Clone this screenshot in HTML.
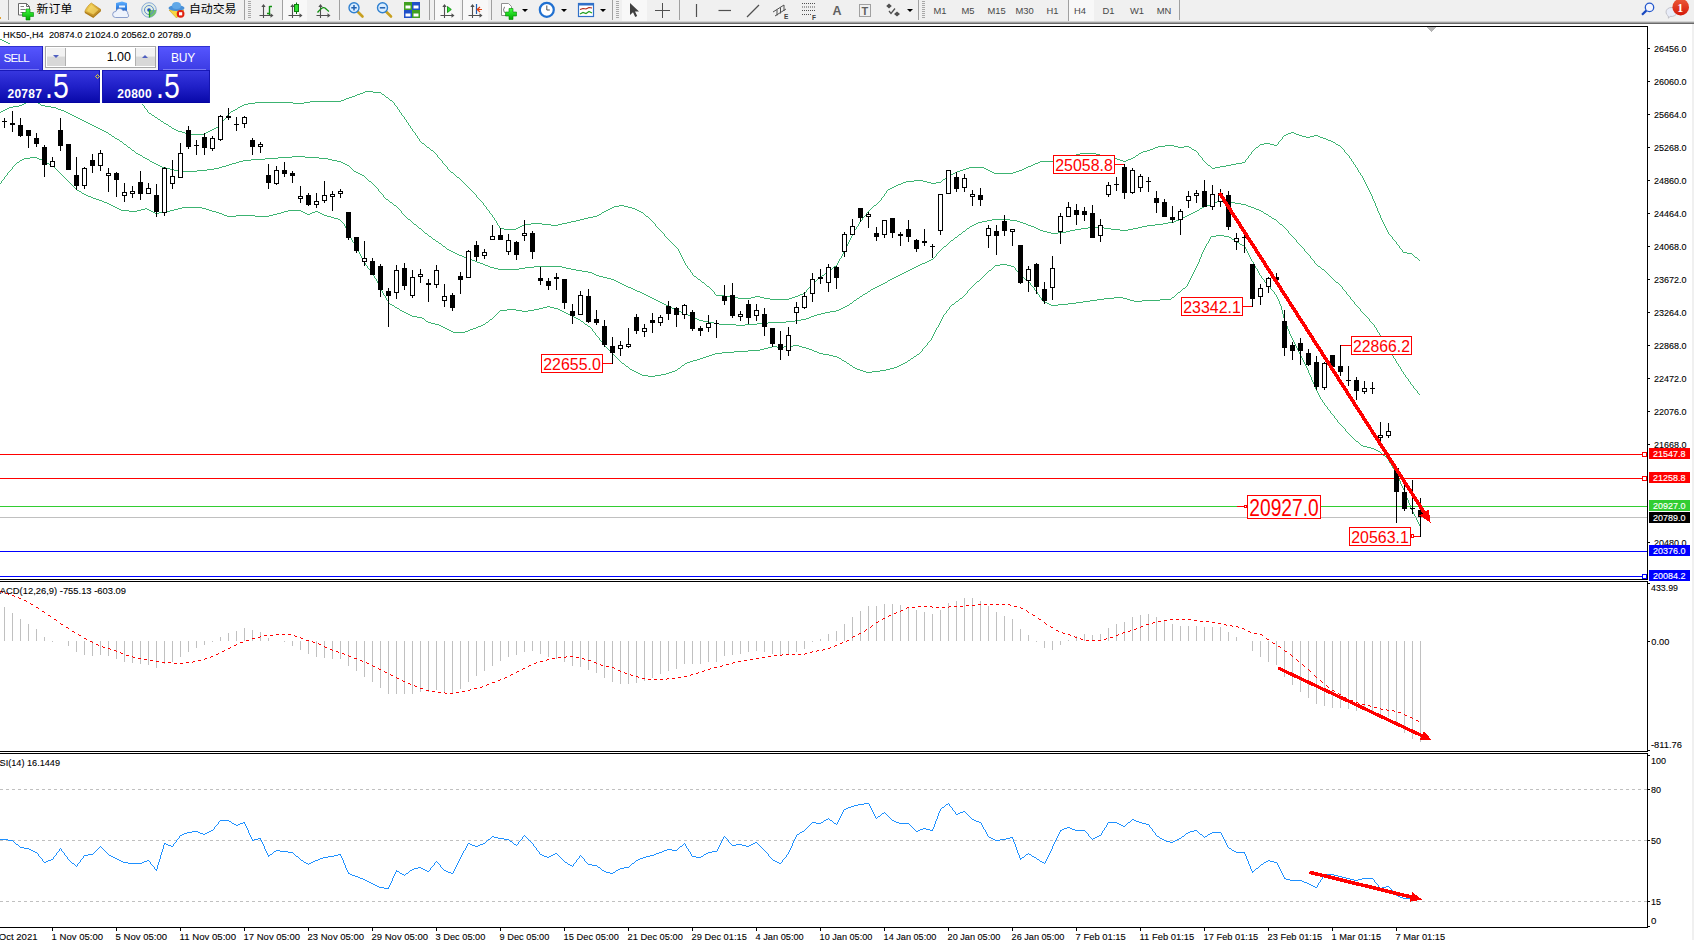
<!DOCTYPE html>
<html><head><meta charset="utf-8"><title>HK50-,H4</title>
<style>
html,body{margin:0;padding:0;background:#fff;}
body{width:1694px;height:940px;overflow:hidden;position:relative;font-family:"Liberation Sans","Noto Sans CJK SC",sans-serif;}
#tb{position:absolute;left:0;top:0;width:1694px;height:21px;background:#f0f0f0;}
#tbl1{position:absolute;left:0;top:21px;width:1694px;height:1px;background:#d4d4d4}
#tbl2{position:absolute;left:0;top:22px;width:1694px;height:1px;background:#a0a0a0}
#tbl3{position:absolute;left:0;top:23px;width:1694px;height:1px;background:#696969}
.sep{position:absolute;top:0;width:1px;height:20px;background:#a0a0a0}
.grip{position:absolute;top:1px;width:3px;height:18px;background:repeating-linear-gradient(#a8a8a8 0 1px,#f0f0f0 1px 2px)}
.sel{position:absolute;top:0;height:21px;background:#f8f8f8;}
.tf{position:absolute;top:4.5px;font-size:9.4px;color:#484848;width:28px;text-align:center;line-height:11px}
.cj{position:absolute;top:0.3px;font-size:11.9px;line-height:16px;color:#000;font-family:"Noto Sans CJK SC","Liberation Sans",sans-serif;white-space:nowrap}
.dd{position:absolute;top:9px;width:0;height:0;border-left:3px solid transparent;border-right:3px solid transparent;border-top:3px solid #000}
#tbsvg{position:absolute;left:0;top:0}
/* one click trading */
#oct{position:absolute;left:0;top:46px;width:210px;height:57px;background:#fff}
.b{position:absolute;color:#fff}
</style></head><body>
<svg width="1694" height="940" viewBox="0 0 1694 940" style="position:absolute;left:0;top:0" shape-rendering="crispEdges" font-family="'Liberation Sans',sans-serif">
<style>text.s{stroke:#000;stroke-width:.1px}text.w{stroke:#fff;stroke-width:.15px}text.r{stroke:#f00;stroke-width:0}</style>
<path fill="#3cb371" d="M0 39h2v1h-2zM2 40h2v1h-2zM4 41h2v1h-2zM6 42h2v1h-2zM8 43h2v1h-2z"/>
<path fill="#3cb371" d="M365 91h8v1h-8zM363 92h2v1h-2zM373 92h8v1h-8zM360 93h3v1h-3zM357 94h3v1h-3zM382 94h2v1h-2zM355 95h2v1h-2zM352 96h3v1h-3zM349 97h3v1h-3zM386 97h2v1h-2zM346 98h3v1h-3zM344 99h2v1h-2zM341 100h3v1h-3zM390 100h2v1h-2zM310 101h31v1h-31zM255 102h38v1h-38zM304 102h6v1h-6zM248 103h7v1h-7zM293 103h11v1h-11zM244 104h4v1h-4zM242 105h2v1h-2zM240 106h2v1h-2zM238 107h2v1h-2zM235 109h2v1h-2zM233 110h2v1h-2zM231 111h2v1h-2zM149 113h2v1h-2zM152 115h2v1h-2zM155 117h2v1h-2zM158 119h2v1h-2zM161 121h2v1h-2zM164 123h2v1h-2zM166 124h2v1h-2zM169 126h2v1h-2zM216 127h2v1h-2zM172 128h2v1h-2zM214 128h2v1h-2zM174 129h2v1h-2zM212 129h2v1h-2zM176 130h2v1h-2zM210 130h2v1h-2zM178 131h4v1h-4zM208 131h2v1h-2zM182 132h3v1h-3zM206 132h2v1h-2zM1291 132h3v1h-3zM185 133h4v1h-4zM204 133h2v1h-2zM1288 133h3v1h-3zM1294 133h2v1h-2zM189 134h15v1h-15zM1286 134h2v1h-2zM1296 134h3v1h-3zM1284 135h2v1h-2zM1299 135h3v1h-3zM1314 135h4v1h-4zM1302 136h4v1h-4zM1310 136h4v1h-4zM1318 136h2v1h-2zM1306 137h4v1h-4zM1320 137h3v1h-3zM1323 138h3v1h-3zM1326 139h2v1h-2zM1328 140h3v1h-3zM1331 141h2v1h-2zM1333 142h2v1h-2zM422 143h2v1h-2zM1264 143h6v1h-6zM1260 144h4v1h-4zM1270 144h4v1h-4zM1336 144h2v1h-2zM1165 145h9v1h-9zM1274 145h3v1h-3zM1338 145h2v1h-2zM1158 146h7v1h-7zM1174 146h4v1h-4zM1184 146h5v1h-5zM427 147h2v1h-2zM1155 147h3v1h-3zM1178 147h6v1h-6zM1189 147h2v1h-2zM1256 147h2v1h-2zM1153 148h2v1h-2zM1150 149h3v1h-3zM1192 149h2v1h-2zM431 150h2v1h-2zM1147 150h3v1h-3zM1194 150h2v1h-2zM1143 151h4v1h-4zM1141 152h2v1h-2zM1080 153h16v1h-16zM1139 153h2v1h-2zM1076 154h4v1h-4zM1096 154h4v1h-4zM1072 155h4v1h-4zM1100 155h4v1h-4zM1136 155h2v1h-2zM1069 156h3v1h-3zM1104 156h4v1h-4zM1065 157h4v1h-4zM1108 157h5v1h-5zM1133 157h2v1h-2zM1062 158h3v1h-3zM1113 158h4v1h-4zM1131 158h2v1h-2zM1059 159h3v1h-3zM1117 159h3v1h-3zM1128 159h3v1h-3zM1055 160h4v1h-4zM1120 160h3v1h-3zM1126 160h2v1h-2zM1040 161h15v1h-15zM1123 161h3v1h-3zM1038 162h2v1h-2zM1242 162h3v1h-3zM1035 163h3v1h-3zM1236 163h6v1h-6zM1033 164h2v1h-2zM1231 164h5v1h-5zM1031 165h2v1h-2zM1208 165h2v1h-2zM1226 165h5v1h-5zM1028 166h3v1h-3zM1220 166h6v1h-6zM969 167h15v1h-15zM1026 167h2v1h-2zM1215 167h5v1h-5zM966 168h3v1h-3zM984 168h2v1h-2zM1024 168h2v1h-2zM1212 168h3v1h-3zM963 169h3v1h-3zM986 169h2v1h-2zM1022 169h2v1h-2zM960 170h3v1h-3zM988 170h2v1h-2zM1019 170h3v1h-3zM957 171h3v1h-3zM990 171h2v1h-2zM1016 171h3v1h-3zM451 172h2v1h-2zM955 172h2v1h-2zM992 172h2v1h-2zM1013 172h3v1h-3zM953 173h2v1h-2zM994 173h19v1h-19zM951 174h2v1h-2zM949 175h2v1h-2zM947 176h2v1h-2zM457 177h2v1h-2zM943 179h2v1h-2zM914 180h9v1h-9zM906 181h8v1h-8zM923 181h4v1h-4zM903 182h3v1h-3zM927 182h4v1h-4zM936 182h5v1h-5zM901 183h2v1h-2zM931 183h5v1h-5zM898 184h3v1h-3zM896 185h2v1h-2zM894 186h2v1h-2zM892 187h2v1h-2zM890 188h2v1h-2zM888 189h2v1h-2zM619 205h5v1h-5zM874 205h2v1h-2zM614 206h5v1h-5zM624 206h4v1h-4zM612 207h2v1h-2zM628 207h4v1h-4zM610 208h2v1h-2zM632 208h3v1h-3zM608 209h2v1h-2zM635 209h2v1h-2zM606 210h2v1h-2zM637 210h2v1h-2zM604 211h2v1h-2zM639 211h2v1h-2zM602 212h2v1h-2zM641 212h2v1h-2zM599 214h2v1h-2zM597 215h2v1h-2zM593 216h4v1h-4zM646 216h2v1h-2zM588 217h5v1h-5zM584 218h4v1h-4zM580 219h4v1h-4zM576 220h4v1h-4zM571 221h5v1h-5zM567 222h4v1h-4zM531 223h11v1h-11zM562 223h5v1h-5zM524 224h7v1h-7zM542 224h9v1h-9zM558 224h4v1h-4zM522 225h2v1h-2zM551 225h7v1h-7zM520 226h2v1h-2zM518 227h2v1h-2zM500 228h4v1h-4zM516 228h2v1h-2zM504 229h12v1h-12zM1403 252h4v1h-4zM1407 253h5v1h-5zM1415 257h2v1h-2zM834 266h2v1h-2zM830 269h2v1h-2zM826 272h2v1h-2zM822 275h2v1h-2zM694 276h2v1h-2zM818 278h2v1h-2zM698 279h2v1h-2zM814 281h2v1h-2zM702 282h2v1h-2zM707 286h2v1h-2zM803 293h2v1h-2zM800 294h3v1h-3zM716 295h8v1h-8zM798 295h2v1h-2zM724 296h10v1h-10zM755 296h5v1h-5zM795 296h3v1h-3zM734 297h4v1h-4zM751 297h4v1h-4zM760 297h4v1h-4zM792 297h3v1h-3zM738 298h13v1h-13zM764 298h6v1h-6zM789 298h3v1h-3zM770 299h19v1h-19zM142 104h1v1h-1zM143 105h1v1h-1zM144 106h1v2h-1zM145 108h1v1h-1zM146 109h1v1h-1zM147 110h1v2h-1zM148 112h1v1h-1zM151 114h1v1h-1zM154 116h1v1h-1zM157 118h1v1h-1zM160 120h1v1h-1zM163 122h1v1h-1zM168 125h1v1h-1zM171 127h1v1h-1zM218 126h1v1h-1zM219 125h1v1h-1zM220 123h1v2h-1zM221 122h1v1h-1zM222 121h1v1h-1zM223 120h1v1h-1zM224 119h1v1h-1zM225 118h1v1h-1zM226 117h1v1h-1zM227 115h1v2h-1zM228 114h1v1h-1zM229 113h1v1h-1zM230 112h1v1h-1zM237 108h1v1h-1zM381 93h1v1h-1zM384 95h1v1h-1zM385 96h1v1h-1zM388 98h1v1h-1zM389 99h1v1h-1zM392 101h1v1h-1zM393 102h1v1h-1zM394 103h1v2h-1zM395 105h1v1h-1zM396 106h1v1h-1zM397 107h1v2h-1zM398 109h1v1h-1zM399 110h1v2h-1zM400 112h1v1h-1zM401 113h1v2h-1zM402 115h1v1h-1zM403 116h1v1h-1zM404 117h1v2h-1zM405 119h1v1h-1zM406 120h1v2h-1zM407 122h1v1h-1zM408 123h1v2h-1zM409 125h1v1h-1zM410 126h1v2h-1zM411 128h1v1h-1zM412 129h1v2h-1zM413 131h1v1h-1zM414 132h1v1h-1zM415 133h1v2h-1zM416 135h1v1h-1zM417 136h1v2h-1zM418 138h1v1h-1zM419 139h1v2h-1zM420 141h1v1h-1zM421 142h1v1h-1zM424 144h1v1h-1zM425 145h1v1h-1zM426 146h1v1h-1zM429 148h1v1h-1zM430 149h1v1h-1zM433 151h1v1h-1zM434 152h1v1h-1zM435 153h1v1h-1zM436 154h1v1h-1zM437 155h1v2h-1zM438 157h1v1h-1zM439 158h1v1h-1zM440 159h1v1h-1zM441 160h1v1h-1zM442 161h1v2h-1zM443 163h1v1h-1zM444 164h1v1h-1zM445 165h1v1h-1zM446 166h1v1h-1zM447 167h1v2h-1zM448 169h1v1h-1zM449 170h1v1h-1zM450 171h1v1h-1zM453 173h1v1h-1zM454 174h1v1h-1zM455 175h1v1h-1zM456 176h1v1h-1zM459 178h1v1h-1zM460 179h1v1h-1zM461 180h1v1h-1zM462 181h1v1h-1zM463 182h1v1h-1zM464 183h1v1h-1zM465 184h1v1h-1zM466 185h1v1h-1zM467 186h1v1h-1zM468 187h1v1h-1zM469 188h1v1h-1zM470 189h1v1h-1zM471 190h1v1h-1zM472 191h1v1h-1zM473 192h1v1h-1zM474 193h1v1h-1zM475 194h1v1h-1zM476 195h1v2h-1zM477 197h1v1h-1zM478 198h1v1h-1zM479 199h1v1h-1zM480 200h1v1h-1zM481 201h1v1h-1zM482 202h1v1h-1zM483 203h1v2h-1zM484 205h1v1h-1zM485 206h1v1h-1zM486 207h1v2h-1zM487 209h1v1h-1zM488 210h1v1h-1zM489 211h1v2h-1zM490 213h1v1h-1zM491 214h1v1h-1zM492 215h1v2h-1zM493 217h1v1h-1zM494 218h1v2h-1zM495 220h1v1h-1zM496 221h1v2h-1zM497 223h1v2h-1zM498 225h1v1h-1zM499 226h1v2h-1zM601 213h1v1h-1zM643 213h1v1h-1zM644 214h1v1h-1zM645 215h1v1h-1zM648 217h1v1h-1zM649 218h1v1h-1zM650 219h1v1h-1zM651 220h1v1h-1zM652 221h1v1h-1zM653 222h1v1h-1zM654 223h1v1h-1zM655 224h1v2h-1zM656 226h1v1h-1zM657 227h1v1h-1zM658 228h1v1h-1zM659 229h1v1h-1zM660 230h1v1h-1zM661 231h1v1h-1zM662 232h1v1h-1zM663 233h1v1h-1zM664 234h1v2h-1zM665 236h1v1h-1zM666 237h1v1h-1zM667 238h1v1h-1zM668 239h1v1h-1zM669 240h1v1h-1zM670 241h1v1h-1zM671 242h1v1h-1zM672 243h1v1h-1zM673 244h1v1h-1zM674 245h1v1h-1zM675 246h1v1h-1zM676 247h1v1h-1zM677 248h1v1h-1zM678 249h1v2h-1zM679 251h1v2h-1zM680 253h1v2h-1zM681 255h1v2h-1zM682 257h1v2h-1zM683 259h1v2h-1zM684 261h1v2h-1zM685 263h1v2h-1zM686 265h1v1h-1zM687 266h1v2h-1zM688 268h1v1h-1zM689 269h1v1h-1zM690 270h1v2h-1zM691 272h1v1h-1zM692 273h1v2h-1zM693 275h1v1h-1zM696 277h1v1h-1zM697 278h1v1h-1zM700 280h1v1h-1zM701 281h1v1h-1zM704 283h1v1h-1zM705 284h1v1h-1zM706 285h1v1h-1zM709 287h1v1h-1zM710 288h1v1h-1zM711 289h1v1h-1zM712 290h1v1h-1zM713 291h1v1h-1zM714 292h1v2h-1zM715 294h1v1h-1zM805 292h1v1h-1zM806 290h1v2h-1zM807 289h1v1h-1zM808 288h1v1h-1zM809 287h1v1h-1zM810 285h1v2h-1zM811 284h1v1h-1zM812 283h1v1h-1zM813 282h1v1h-1zM816 280h1v1h-1zM817 279h1v1h-1zM820 277h1v1h-1zM821 276h1v1h-1zM824 274h1v1h-1zM825 273h1v1h-1zM828 271h1v1h-1zM829 270h1v1h-1zM832 268h1v1h-1zM833 267h1v1h-1zM836 265h1v1h-1zM837 263h1v2h-1zM838 261h1v2h-1zM839 259h1v2h-1zM840 258h1v1h-1zM841 256h1v2h-1zM842 254h1v2h-1zM843 252h1v2h-1zM844 250h1v2h-1zM845 248h1v2h-1zM846 246h1v2h-1zM847 244h1v2h-1zM848 242h1v2h-1zM849 240h1v2h-1zM850 238h1v2h-1zM851 236h1v2h-1zM852 234h1v2h-1zM853 232h1v2h-1zM854 230h1v2h-1zM855 229h1v1h-1zM856 227h1v2h-1zM857 226h1v1h-1zM858 224h1v2h-1zM859 222h1v2h-1zM860 221h1v1h-1zM861 220h1v1h-1zM862 218h1v2h-1zM863 217h1v1h-1zM864 216h1v1h-1zM865 215h1v1h-1zM866 213h1v2h-1zM867 212h1v1h-1zM868 211h1v1h-1zM869 210h1v1h-1zM870 209h1v1h-1zM871 208h1v1h-1zM872 207h1v1h-1zM873 206h1v1h-1zM876 204h1v1h-1zM877 203h1v1h-1zM878 202h1v1h-1zM879 201h1v1h-1zM880 200h1v1h-1zM881 198h1v2h-1zM882 197h1v1h-1zM883 196h1v1h-1zM884 194h1v2h-1zM885 193h1v1h-1zM886 191h1v2h-1zM887 190h1v1h-1zM941 181h1v1h-1zM942 180h1v1h-1zM945 178h1v1h-1zM946 177h1v1h-1zM1135 156h1v1h-1zM1138 154h1v1h-1zM1191 148h1v1h-1zM1196 151h1v1h-1zM1197 152h1v1h-1zM1198 153h1v2h-1zM1199 155h1v1h-1zM1200 156h1v1h-1zM1201 157h1v1h-1zM1202 158h1v2h-1zM1203 160h1v1h-1zM1204 161h1v1h-1zM1205 162h1v1h-1zM1206 163h1v1h-1zM1207 164h1v1h-1zM1210 166h1v1h-1zM1211 167h1v1h-1zM1245 160h1v2h-1zM1246 159h1v1h-1zM1247 158h1v1h-1zM1248 156h1v2h-1zM1249 155h1v1h-1zM1250 154h1v1h-1zM1251 152h1v2h-1zM1252 151h1v1h-1zM1253 150h1v1h-1zM1254 149h1v1h-1zM1255 148h1v1h-1zM1258 146h1v1h-1zM1259 145h1v1h-1zM1277 144h1v1h-1zM1278 142h1v2h-1zM1279 141h1v1h-1zM1280 140h1v1h-1zM1281 139h1v1h-1zM1282 137h1v2h-1zM1283 136h1v1h-1zM1335 143h1v1h-1zM1340 146h1v1h-1zM1341 147h1v1h-1zM1342 148h1v1h-1zM1343 149h1v1h-1zM1344 150h1v2h-1zM1345 152h1v1h-1zM1346 153h1v1h-1zM1347 154h1v1h-1zM1348 155h1v1h-1zM1349 156h1v2h-1zM1350 158h1v1h-1zM1351 159h1v2h-1zM1352 161h1v1h-1zM1353 162h1v2h-1zM1354 164h1v1h-1zM1355 165h1v2h-1zM1356 167h1v1h-1zM1357 168h1v2h-1zM1358 170h1v2h-1zM1359 172h1v1h-1zM1360 173h1v2h-1zM1361 175h1v1h-1zM1362 176h1v2h-1zM1363 178h1v2h-1zM1364 180h1v2h-1zM1365 182h1v2h-1zM1366 184h1v2h-1zM1367 186h1v2h-1zM1368 188h1v2h-1zM1369 190h1v2h-1zM1370 192h1v2h-1zM1371 194h1v2h-1zM1372 196h1v3h-1zM1373 199h1v2h-1zM1374 201h1v2h-1zM1375 203h1v3h-1zM1376 206h1v2h-1zM1377 208h1v3h-1zM1378 211h1v2h-1zM1379 213h1v2h-1zM1380 215h1v3h-1zM1381 218h1v2h-1zM1382 220h1v2h-1zM1383 222h1v2h-1zM1384 224h1v2h-1zM1385 226h1v2h-1zM1386 228h1v2h-1zM1387 230h1v2h-1zM1388 232h1v2h-1zM1389 234h1v1h-1zM1390 235h1v1h-1zM1391 236h1v1h-1zM1392 237h1v2h-1zM1393 239h1v1h-1zM1394 240h1v1h-1zM1395 241h1v1h-1zM1396 242h1v2h-1zM1397 244h1v1h-1zM1398 245h1v1h-1zM1399 246h1v2h-1zM1400 248h1v1h-1zM1401 249h1v1h-1zM1402 250h1v2h-1zM1412 254h1v1h-1zM1413 255h1v1h-1zM1414 256h1v1h-1zM1417 258h1v1h-1zM1418 259h1v1h-1zM1419 260h1v1h-1z"/>
<path fill="#3cb371" d="M30 101h4v1h-4zM26 102h4v1h-4zM34 102h4v1h-4zM24 103h2v1h-2zM38 103h2v1h-2zM22 104h2v1h-2zM19 105h3v1h-3zM41 105h4v1h-4zM13 106h6v1h-6zM45 106h6v1h-6zM9 107h4v1h-4zM51 107h5v1h-5zM7 108h2v1h-2zM56 108h2v1h-2zM5 109h2v1h-2zM58 109h3v1h-3zM3 110h2v1h-2zM61 110h3v1h-3zM1 111h2v1h-2zM64 111h2v1h-2zM66 112h2v1h-2zM68 113h2v1h-2zM70 114h2v1h-2zM72 115h2v1h-2zM74 116h2v1h-2zM76 117h2v1h-2zM78 118h2v1h-2zM80 119h2v1h-2zM82 120h2v1h-2zM84 121h2v1h-2zM86 122h2v1h-2zM88 123h2v1h-2zM90 124h2v1h-2zM92 125h2v1h-2zM94 126h2v1h-2zM96 127h2v1h-2zM98 128h2v1h-2zM100 129h2v1h-2zM102 130h2v1h-2zM104 131h2v1h-2zM106 132h2v1h-2zM109 134h2v1h-2zM112 136h2v1h-2zM115 138h2v1h-2zM117 139h2v1h-2zM120 141h2v1h-2zM124 144h2v1h-2zM128 147h2v1h-2zM132 150h2v1h-2zM136 153h2v1h-2zM138 154h2v1h-2zM140 155h2v1h-2zM292 156h13v1h-13zM143 157h2v1h-2zM278 157h14v1h-14zM305 157h14v1h-14zM145 158h2v1h-2zM265 158h13v1h-13zM319 158h9v1h-9zM147 159h2v1h-2zM251 159h14v1h-14zM328 159h4v1h-4zM243 160h8v1h-8zM332 160h5v1h-5zM150 161h2v1h-2zM239 161h4v1h-4zM337 161h4v1h-4zM152 162h2v1h-2zM236 162h3v1h-3zM341 162h2v1h-2zM154 163h2v1h-2zM232 163h4v1h-4zM343 163h2v1h-2zM156 164h2v1h-2zM229 164h3v1h-3zM345 164h2v1h-2zM158 165h2v1h-2zM226 165h3v1h-3zM347 165h2v1h-2zM160 166h2v1h-2zM222 166h4v1h-4zM162 167h4v1h-4zM219 167h3v1h-3zM166 168h4v1h-4zM214 168h5v1h-5zM170 169h4v1h-4zM207 169h7v1h-7zM174 170h9v1h-9zM197 170h10v1h-10zM183 171h14v1h-14zM354 171h2v1h-2zM356 172h2v1h-2zM358 173h2v1h-2zM360 174h2v1h-2zM362 175h2v1h-2zM369 181h2v1h-2zM386 199h2v1h-2zM1219 200h4v1h-4zM1217 201h2v1h-2zM1223 201h6v1h-6zM390 202h2v1h-2zM1215 202h2v1h-2zM1229 202h6v1h-6zM1213 203h2v1h-2zM1235 203h6v1h-6zM1210 204h3v1h-3zM1241 204h5v1h-5zM394 205h2v1h-2zM1206 205h4v1h-4zM1246 205h2v1h-2zM1204 206h2v1h-2zM1248 206h3v1h-3zM1202 207h2v1h-2zM1251 207h3v1h-3zM1200 208h2v1h-2zM1254 208h2v1h-2zM1256 209h3v1h-3zM1197 210h2v1h-2zM1259 210h2v1h-2zM1195 211h2v1h-2zM1261 211h2v1h-2zM1193 212h2v1h-2zM1191 213h2v1h-2zM1264 213h2v1h-2zM1189 214h2v1h-2zM1266 214h2v1h-2zM1187 215h2v1h-2zM1185 216h2v1h-2zM1269 216h2v1h-2zM1183 217h2v1h-2zM1181 218h2v1h-2zM1272 218h2v1h-2zM408 219h2v1h-2zM992 219h18v1h-18zM1179 219h2v1h-2zM1274 219h2v1h-2zM987 220h5v1h-5zM1010 220h7v1h-7zM1176 220h3v1h-3zM982 221h5v1h-5zM1017 221h3v1h-3zM1174 221h2v1h-2zM978 222h4v1h-4zM1020 222h3v1h-3zM1168 222h6v1h-6zM976 223h2v1h-2zM1023 223h3v1h-3zM1163 223h5v1h-5zM414 224h2v1h-2zM974 224h2v1h-2zM1026 224h2v1h-2zM1155 224h8v1h-8zM1280 224h2v1h-2zM972 225h2v1h-2zM1028 225h3v1h-3zM1147 225h8v1h-8zM970 226h2v1h-2zM1031 226h3v1h-3zM1142 226h5v1h-5zM1034 227h2v1h-2zM1088 227h16v1h-16zM1138 227h4v1h-4zM419 228h2v1h-2zM967 228h2v1h-2zM1036 228h2v1h-2zM1081 228h7v1h-7zM1104 228h7v1h-7zM1133 228h5v1h-5zM1038 229h2v1h-2zM1075 229h6v1h-6zM1111 229h9v1h-9zM1128 229h5v1h-5zM1040 230h3v1h-3zM1070 230h5v1h-5zM1120 230h8v1h-8zM963 231h2v1h-2zM1043 231h4v1h-4zM1066 231h4v1h-4zM1047 232h4v1h-4zM1058 232h8v1h-8zM425 233h2v1h-2zM1051 233h7v1h-7zM959 234h2v1h-2zM429 236h2v1h-2zM955 237h2v1h-2zM433 239h2v1h-2zM951 240h2v1h-2zM436 241h2v1h-2zM439 243h2v1h-2zM443 246h2v1h-2zM944 246h2v1h-2zM447 249h2v1h-2zM449 250h2v1h-2zM451 251h2v1h-2zM453 252h2v1h-2zM455 253h2v1h-2zM457 254h2v1h-2zM459 255h3v1h-3zM462 256h2v1h-2zM464 257h3v1h-3zM467 258h2v1h-2zM469 259h3v1h-3zM931 259h2v1h-2zM472 260h3v1h-3zM929 260h2v1h-2zM475 261h2v1h-2zM927 261h2v1h-2zM477 262h3v1h-3zM925 262h2v1h-2zM480 263h3v1h-3zM922 263h3v1h-3zM483 264h2v1h-2zM920 264h2v1h-2zM485 265h3v1h-3zM918 265h2v1h-2zM488 266h2v1h-2zM534 266h28v1h-28zM916 266h2v1h-2zM1318 266h2v1h-2zM490 267h4v1h-4zM525 267h9v1h-9zM562 267h4v1h-4zM914 267h2v1h-2zM494 268h4v1h-4zM519 268h6v1h-6zM566 268h5v1h-5zM912 268h2v1h-2zM498 269h21v1h-21zM571 269h5v1h-5zM910 269h2v1h-2zM1322 269h2v1h-2zM576 270h6v1h-6zM908 270h2v1h-2zM582 271h6v1h-6zM906 271h2v1h-2zM588 272h4v1h-4zM904 272h2v1h-2zM592 273h2v1h-2zM902 273h2v1h-2zM594 274h2v1h-2zM900 274h2v1h-2zM596 275h3v1h-3zM898 275h2v1h-2zM599 276h4v1h-4zM896 276h2v1h-2zM603 277h4v1h-4zM894 277h2v1h-2zM607 278h4v1h-4zM892 278h2v1h-2zM611 279h3v1h-3zM890 279h2v1h-2zM614 280h2v1h-2zM888 280h2v1h-2zM616 281h2v1h-2zM618 282h2v1h-2zM885 282h2v1h-2zM1336 282h2v1h-2zM620 283h2v1h-2zM883 283h2v1h-2zM622 284h2v1h-2zM881 284h2v1h-2zM624 285h2v1h-2zM879 285h2v1h-2zM626 286h2v1h-2zM877 286h2v1h-2zM628 287h3v1h-3zM875 287h2v1h-2zM631 288h2v1h-2zM873 288h2v1h-2zM633 289h2v1h-2zM871 289h2v1h-2zM635 290h2v1h-2zM637 291h3v1h-3zM868 291h2v1h-2zM640 292h2v1h-2zM642 293h2v1h-2zM865 293h2v1h-2zM644 294h2v1h-2zM863 294h2v1h-2zM646 295h2v1h-2zM648 296h2v1h-2zM860 296h2v1h-2zM650 297h2v1h-2zM652 298h2v1h-2zM857 298h2v1h-2zM654 299h2v1h-2zM656 300h2v1h-2zM854 300h2v1h-2zM658 301h2v1h-2zM660 302h2v1h-2zM662 303h2v1h-2zM850 303h2v1h-2zM664 304h2v1h-2zM666 305h2v1h-2zM847 305h2v1h-2zM668 306h2v1h-2zM845 306h2v1h-2zM670 307h2v1h-2zM843 307h2v1h-2zM672 308h2v1h-2zM841 308h2v1h-2zM674 309h2v1h-2zM839 309h2v1h-2zM676 310h2v1h-2zM836 310h3v1h-3zM678 311h3v1h-3zM830 311h6v1h-6zM681 312h2v1h-2zM825 312h5v1h-5zM683 313h3v1h-3zM821 313h4v1h-4zM686 314h2v1h-2zM817 314h4v1h-4zM688 315h3v1h-3zM814 315h3v1h-3zM691 316h2v1h-2zM811 316h3v1h-3zM693 317h2v1h-2zM809 317h2v1h-2zM695 318h2v1h-2zM806 318h3v1h-3zM697 319h2v1h-2zM801 319h5v1h-5zM699 320h4v1h-4zM795 320h6v1h-6zM703 321h6v1h-6zM786 321h9v1h-9zM709 322h5v1h-5zM768 322h18v1h-18zM714 323h5v1h-5zM757 323h11v1h-11zM719 324h17v1h-17zM745 324h12v1h-12zM736 325h9v1h-9zM0 112h1v1h-1zM40 104h1v1h-1zM108 133h1v1h-1zM111 135h1v1h-1zM114 137h1v1h-1zM119 140h1v1h-1zM122 142h1v1h-1zM123 143h1v1h-1zM126 145h1v1h-1zM127 146h1v1h-1zM130 148h1v1h-1zM131 149h1v1h-1zM134 151h1v1h-1zM135 152h1v1h-1zM142 156h1v1h-1zM149 160h1v1h-1zM349 166h1v1h-1zM350 167h1v1h-1zM351 168h1v1h-1zM352 169h1v1h-1zM353 170h1v1h-1zM364 176h1v1h-1zM365 177h1v1h-1zM366 178h1v1h-1zM367 179h1v1h-1zM368 180h1v1h-1zM371 182h1v1h-1zM372 183h1v1h-1zM373 184h1v1h-1zM374 185h1v1h-1zM375 186h1v1h-1zM376 187h1v1h-1zM377 188h1v1h-1zM378 189h1v2h-1zM379 191h1v1h-1zM380 192h1v1h-1zM381 193h1v1h-1zM382 194h1v1h-1zM383 195h1v2h-1zM384 197h1v1h-1zM385 198h1v1h-1zM388 200h1v1h-1zM389 201h1v1h-1zM392 203h1v1h-1zM393 204h1v1h-1zM396 206h1v1h-1zM397 207h1v1h-1zM398 208h1v1h-1zM399 209h1v1h-1zM400 210h1v1h-1zM401 211h1v2h-1zM402 213h1v1h-1zM403 214h1v1h-1zM404 215h1v1h-1zM405 216h1v1h-1zM406 217h1v1h-1zM407 218h1v1h-1zM410 220h1v1h-1zM411 221h1v1h-1zM412 222h1v1h-1zM413 223h1v1h-1zM416 225h1v1h-1zM417 226h1v1h-1zM418 227h1v1h-1zM421 229h1v1h-1zM422 230h1v1h-1zM423 231h1v1h-1zM424 232h1v1h-1zM427 234h1v1h-1zM428 235h1v1h-1zM431 237h1v1h-1zM432 238h1v1h-1zM435 240h1v1h-1zM438 242h1v1h-1zM441 244h1v1h-1zM442 245h1v1h-1zM445 247h1v1h-1zM446 248h1v1h-1zM849 304h1v1h-1zM852 302h1v1h-1zM853 301h1v1h-1zM856 299h1v1h-1zM859 297h1v1h-1zM862 295h1v1h-1zM867 292h1v1h-1zM870 290h1v1h-1zM887 281h1v1h-1zM933 258h1v1h-1zM934 257h1v1h-1zM935 256h1v1h-1zM936 254h1v2h-1zM937 253h1v1h-1zM938 252h1v1h-1zM939 251h1v1h-1zM940 250h1v1h-1zM941 249h1v1h-1zM942 248h1v1h-1zM943 247h1v1h-1zM946 245h1v1h-1zM947 244h1v1h-1zM948 243h1v1h-1zM949 242h1v1h-1zM950 241h1v1h-1zM953 239h1v1h-1zM954 238h1v1h-1zM957 236h1v1h-1zM958 235h1v1h-1zM961 233h1v1h-1zM962 232h1v1h-1zM965 230h1v1h-1zM966 229h1v1h-1zM969 227h1v1h-1zM1199 209h1v1h-1zM1263 212h1v1h-1zM1268 215h1v1h-1zM1271 217h1v1h-1zM1276 220h1v1h-1zM1277 221h1v1h-1zM1278 222h1v1h-1zM1279 223h1v1h-1zM1282 225h1v1h-1zM1283 226h1v1h-1zM1284 227h1v1h-1zM1285 228h1v1h-1zM1286 229h1v1h-1zM1287 230h1v1h-1zM1288 231h1v2h-1zM1289 233h1v1h-1zM1290 234h1v1h-1zM1291 235h1v1h-1zM1292 236h1v1h-1zM1293 237h1v1h-1zM1294 238h1v1h-1zM1295 239h1v1h-1zM1296 240h1v2h-1zM1297 242h1v1h-1zM1298 243h1v1h-1zM1299 244h1v1h-1zM1300 245h1v1h-1zM1301 246h1v1h-1zM1302 247h1v1h-1zM1303 248h1v1h-1zM1304 249h1v2h-1zM1305 251h1v1h-1zM1306 252h1v1h-1zM1307 253h1v1h-1zM1308 254h1v1h-1zM1309 255h1v1h-1zM1310 256h1v2h-1zM1311 258h1v1h-1zM1312 259h1v1h-1zM1313 260h1v1h-1zM1314 261h1v2h-1zM1315 263h1v1h-1zM1316 264h1v1h-1zM1317 265h1v1h-1zM1320 267h1v1h-1zM1321 268h1v1h-1zM1324 270h1v1h-1zM1325 271h1v1h-1zM1326 272h1v1h-1zM1327 273h1v1h-1zM1328 274h1v1h-1zM1329 275h1v1h-1zM1330 276h1v1h-1zM1331 277h1v1h-1zM1332 278h1v1h-1zM1333 279h1v1h-1zM1334 280h1v1h-1zM1335 281h1v1h-1zM1338 283h1v1h-1zM1339 284h1v1h-1zM1340 285h1v1h-1zM1341 286h1v1h-1zM1342 287h1v2h-1zM1343 289h1v1h-1zM1344 290h1v1h-1zM1345 291h1v1h-1zM1346 292h1v2h-1zM1347 294h1v1h-1zM1348 295h1v1h-1zM1349 296h1v1h-1zM1350 297h1v2h-1zM1351 299h1v1h-1zM1352 300h1v1h-1zM1353 301h1v1h-1zM1354 302h1v2h-1zM1355 304h1v1h-1zM1356 305h1v1h-1zM1357 306h1v1h-1zM1358 307h1v1h-1zM1359 308h1v1h-1zM1360 309h1v2h-1zM1361 311h1v1h-1zM1362 312h1v1h-1zM1363 313h1v1h-1zM1364 314h1v1h-1zM1365 315h1v1h-1zM1366 316h1v1h-1zM1367 317h1v1h-1zM1368 318h1v1h-1zM1369 319h1v2h-1zM1370 321h1v1h-1zM1371 322h1v1h-1zM1372 323h1v1h-1zM1373 324h1v1h-1zM1374 325h1v2h-1zM1375 327h1v1h-1zM1376 328h1v2h-1zM1377 330h1v2h-1zM1378 332h1v1h-1zM1379 333h1v2h-1zM1380 335h1v1h-1zM1381 336h1v2h-1zM1382 338h1v2h-1zM1383 340h1v1h-1zM1384 341h1v2h-1zM1385 343h1v2h-1zM1386 345h1v1h-1zM1387 346h1v2h-1zM1388 348h1v2h-1zM1389 350h1v1h-1zM1390 351h1v2h-1zM1391 353h1v2h-1zM1392 355h1v1h-1zM1393 356h1v2h-1zM1394 358h1v1h-1zM1395 359h1v2h-1zM1396 361h1v2h-1zM1397 363h1v1h-1zM1398 364h1v2h-1zM1399 366h1v1h-1zM1400 367h1v2h-1zM1401 369h1v2h-1zM1402 371h1v1h-1zM1403 372h1v2h-1zM1404 374h1v1h-1zM1405 375h1v2h-1zM1406 377h1v1h-1zM1407 378h1v1h-1zM1408 379h1v2h-1zM1409 381h1v1h-1zM1410 382h1v2h-1zM1411 384h1v1h-1zM1412 385h1v1h-1zM1413 386h1v2h-1zM1414 388h1v1h-1zM1415 389h1v1h-1zM1416 390h1v1h-1zM1417 391h1v2h-1zM1418 393h1v1h-1zM1419 394h1v1h-1z"/>
<path fill="#3cb371" d="M30 157h7v1h-7zM24 158h6v1h-6zM37 158h2v1h-2zM22 159h2v1h-2zM39 159h3v1h-3zM20 160h2v1h-2zM42 160h2v1h-2zM44 161h2v1h-2zM17 162h2v1h-2zM47 163h2v1h-2zM49 164h2v1h-2zM52 166h2v1h-2zM77 190h2v1h-2zM79 191h2v1h-2zM82 193h2v1h-2zM84 194h2v1h-2zM86 195h2v1h-2zM88 196h3v1h-3zM91 197h2v1h-2zM93 198h3v1h-3zM96 199h3v1h-3zM99 200h3v1h-3zM102 201h2v1h-2zM104 202h3v1h-3zM107 203h2v1h-2zM109 204h2v1h-2zM111 205h2v1h-2zM113 206h2v1h-2zM115 207h2v1h-2zM182 207h20v1h-20zM117 208h2v1h-2zM145 208h2v1h-2zM178 208h4v1h-4zM202 208h4v1h-4zM119 209h2v1h-2zM141 209h4v1h-4zM147 209h2v1h-2zM174 209h4v1h-4zM206 209h3v1h-3zM121 210h8v1h-8zM137 210h4v1h-4zM149 210h2v1h-2zM170 210h4v1h-4zM209 210h3v1h-3zM288 210h13v1h-13zM129 211h8v1h-8zM151 211h2v1h-2zM165 211h5v1h-5zM212 211h4v1h-4zM284 211h4v1h-4zM301 211h2v1h-2zM315 211h3v1h-3zM153 212h2v1h-2zM159 212h6v1h-6zM216 212h3v1h-3zM281 212h3v1h-3zM303 212h2v1h-2zM312 212h3v1h-3zM318 212h2v1h-2zM155 213h4v1h-4zM219 213h3v1h-3zM277 213h4v1h-4zM305 213h2v1h-2zM310 213h2v1h-2zM320 213h2v1h-2zM222 214h2v1h-2zM273 214h4v1h-4zM307 214h3v1h-3zM322 214h2v1h-2zM224 215h3v1h-3zM236 215h19v1h-19zM269 215h4v1h-4zM324 215h3v1h-3zM227 216h9v1h-9zM255 216h14v1h-14zM327 216h4v1h-4zM331 217h3v1h-3zM334 218h4v1h-4zM338 219h2v1h-2zM1216 235h8v1h-8zM1211 236h5v1h-5zM1224 236h5v1h-5zM1229 237h2v1h-2zM1232 239h2v1h-2zM1234 240h2v1h-2zM1237 242h2v1h-2zM1240 244h2v1h-2zM1242 245h2v1h-2zM1000 264h7v1h-7zM995 265h5v1h-5zM1007 265h4v1h-4zM1011 266h3v1h-3zM989 270h2v1h-2zM1022 277h2v1h-2zM1026 280h2v1h-2zM977 281h2v1h-2zM1183 288h2v1h-2zM1178 292h2v1h-2zM1114 297h9v1h-9zM1172 297h2v1h-2zM960 298h2v1h-2zM1104 298h10v1h-10zM1123 298h4v1h-4zM1097 299h7v1h-7zM1127 299h3v1h-3zM1160 299h11v1h-11zM1090 300h7v1h-7zM1130 300h4v1h-4zM1142 300h18v1h-18zM956 301h2v1h-2zM1043 301h2v1h-2zM1083 301h7v1h-7zM1134 301h8v1h-8zM1045 302h2v1h-2zM1076 302h7v1h-7zM1047 303h2v1h-2zM1068 303h8v1h-8zM390 304h2v1h-2zM952 304h2v1h-2zM1049 304h2v1h-2zM1058 304h10v1h-10zM392 305h2v1h-2zM1051 305h7v1h-7zM547 306h3v1h-3zM395 307h2v1h-2zM543 307h4v1h-4zM550 307h4v1h-4zM397 308h2v1h-2zM539 308h4v1h-4zM554 308h4v1h-4zM507 309h9v1h-9zM534 309h5v1h-5zM558 309h2v1h-2zM400 310h2v1h-2zM500 310h7v1h-7zM516 310h6v1h-6zM528 310h6v1h-6zM560 310h2v1h-2zM402 311h2v1h-2zM522 311h6v1h-6zM562 311h2v1h-2zM404 312h2v1h-2zM564 312h2v1h-2zM406 313h2v1h-2zM566 313h2v1h-2zM408 314h2v1h-2zM568 314h2v1h-2zM410 315h2v1h-2zM570 315h2v1h-2zM412 316h5v1h-5zM572 316h2v1h-2zM417 317h5v1h-5zM574 317h2v1h-2zM422 318h2v1h-2zM576 318h2v1h-2zM490 319h2v1h-2zM578 319h2v1h-2zM426 321h2v1h-2zM581 321h2v1h-2zM428 322h3v1h-3zM486 322h2v1h-2zM431 323h4v1h-4zM435 324h4v1h-4zM483 324h2v1h-2zM585 324h2v1h-2zM439 325h2v1h-2zM481 325h2v1h-2zM441 326h2v1h-2zM478 326h3v1h-3zM588 326h2v1h-2zM443 327h2v1h-2zM476 327h2v1h-2zM445 328h2v1h-2zM473 328h3v1h-3zM447 329h2v1h-2zM470 329h3v1h-3zM449 330h2v1h-2zM468 330h2v1h-2zM451 331h2v1h-2zM465 331h3v1h-3zM453 332h12v1h-12zM793 345h6v1h-6zM772 346h5v1h-5zM784 346h9v1h-9zM799 346h3v1h-3zM768 347h4v1h-4zM777 347h7v1h-7zM802 347h4v1h-4zM764 348h4v1h-4zM806 348h3v1h-3zM760 349h4v1h-4zM809 349h3v1h-3zM748 350h12v1h-12zM812 350h2v1h-2zM734 351h14v1h-14zM814 351h3v1h-3zM722 352h12v1h-12zM817 352h2v1h-2zM715 353h7v1h-7zM819 353h4v1h-4zM712 354h3v1h-3zM823 354h6v1h-6zM917 354h2v1h-2zM709 355h3v1h-3zM829 355h4v1h-4zM706 356h3v1h-3zM833 356h4v1h-4zM914 356h2v1h-2zM703 357h3v1h-3zM837 357h2v1h-2zM700 358h3v1h-3zM839 358h2v1h-2zM911 358h2v1h-2zM697 359h3v1h-3zM693 360h4v1h-4zM842 360h2v1h-2zM908 360h2v1h-2zM690 361h3v1h-3zM844 361h2v1h-2zM687 362h3v1h-3zM905 362h2v1h-2zM622 363h2v1h-2zM685 363h2v1h-2zM847 363h2v1h-2zM903 363h2v1h-2zM901 364h2v1h-2zM682 365h2v1h-2zM850 365h2v1h-2zM899 365h2v1h-2zM626 366h2v1h-2zM897 366h2v1h-2zM853 367h2v1h-2zM894 367h3v1h-3zM678 368h2v1h-2zM855 368h2v1h-2zM890 368h4v1h-4zM630 369h2v1h-2zM857 369h3v1h-3zM886 369h4v1h-4zM632 370h2v1h-2zM675 370h2v1h-2zM860 370h3v1h-3zM880 370h6v1h-6zM634 371h2v1h-2zM672 371h3v1h-3zM863 371h3v1h-3zM872 371h8v1h-8zM636 372h2v1h-2zM669 372h3v1h-3zM866 372h6v1h-6zM638 373h2v1h-2zM666 373h3v1h-3zM640 374h2v1h-2zM661 374h5v1h-5zM642 375h6v1h-6zM655 375h6v1h-6zM648 376h7v1h-7zM1356 441h2v1h-2zM1361 445h2v1h-2zM1363 446h4v1h-4zM1367 447h4v1h-4zM1371 448h3v1h-3zM1374 449h2v1h-2zM1376 450h2v1h-2zM1378 451h2v1h-2zM1383 455h2v1h-2zM0 183h1v1h-1zM1 181h1v2h-1zM2 180h1v1h-1zM3 179h1v1h-1zM4 177h1v2h-1zM5 176h1v1h-1zM6 175h1v1h-1zM7 173h1v2h-1zM8 172h1v1h-1zM9 171h1v1h-1zM10 170h1v1h-1zM11 169h1v1h-1zM12 167h1v2h-1zM13 166h1v1h-1zM14 165h1v1h-1zM15 164h1v1h-1zM16 163h1v1h-1zM19 161h1v1h-1zM46 162h1v1h-1zM51 165h1v1h-1zM54 167h1v1h-1zM55 168h1v1h-1zM56 169h1v1h-1zM57 170h1v1h-1zM58 171h1v1h-1zM59 172h1v1h-1zM60 173h1v1h-1zM61 174h1v1h-1zM62 175h1v1h-1zM63 176h1v1h-1zM64 177h1v1h-1zM65 178h1v1h-1zM66 179h1v1h-1zM67 180h1v1h-1zM68 181h1v1h-1zM69 182h1v1h-1zM70 183h1v1h-1zM71 184h1v1h-1zM72 185h1v1h-1zM73 186h1v1h-1zM74 187h1v1h-1zM75 188h1v1h-1zM76 189h1v1h-1zM81 192h1v1h-1zM340 220h1v1h-1zM341 221h1v1h-1zM342 222h1v1h-1zM343 223h1v1h-1zM344 224h1v2h-1zM345 226h1v2h-1zM346 228h1v2h-1zM347 230h1v2h-1zM348 232h1v2h-1zM349 234h1v2h-1zM350 236h1v2h-1zM351 238h1v2h-1zM352 240h1v2h-1zM353 242h1v1h-1zM354 243h1v2h-1zM355 245h1v2h-1zM356 247h1v2h-1zM357 249h1v2h-1zM358 251h1v1h-1zM359 252h1v2h-1zM360 254h1v2h-1zM361 256h1v2h-1zM362 258h1v2h-1zM363 260h1v2h-1zM364 262h1v1h-1zM365 263h1v2h-1zM366 265h1v1h-1zM367 266h1v2h-1zM368 268h1v1h-1zM369 269h1v1h-1zM370 270h1v2h-1zM371 272h1v1h-1zM372 273h1v2h-1zM373 275h1v1h-1zM374 276h1v2h-1zM375 278h1v1h-1zM376 279h1v2h-1zM377 281h1v2h-1zM378 283h1v2h-1zM379 285h1v2h-1zM380 287h1v2h-1zM381 289h1v2h-1zM382 291h1v2h-1zM383 293h1v2h-1zM384 295h1v1h-1zM385 296h1v2h-1zM386 298h1v2h-1zM387 300h1v1h-1zM388 301h1v2h-1zM389 303h1v1h-1zM394 306h1v1h-1zM399 309h1v1h-1zM424 319h1v1h-1zM425 320h1v1h-1zM485 323h1v1h-1zM488 321h1v1h-1zM489 320h1v1h-1zM492 318h1v1h-1zM493 317h1v1h-1zM494 316h1v1h-1zM495 315h1v1h-1zM496 314h1v1h-1zM497 313h1v1h-1zM498 312h1v1h-1zM499 311h1v1h-1zM580 320h1v1h-1zM583 322h1v1h-1zM584 323h1v1h-1zM587 325h1v1h-1zM590 327h1v1h-1zM591 328h1v1h-1zM592 329h1v2h-1zM593 331h1v1h-1zM594 332h1v1h-1zM595 333h1v2h-1zM596 335h1v1h-1zM597 336h1v1h-1zM598 337h1v1h-1zM599 338h1v2h-1zM600 340h1v1h-1zM601 341h1v1h-1zM602 342h1v1h-1zM603 343h1v1h-1zM604 344h1v2h-1zM605 346h1v1h-1zM606 347h1v1h-1zM607 348h1v1h-1zM608 349h1v1h-1zM609 350h1v1h-1zM610 351h1v1h-1zM611 352h1v1h-1zM612 353h1v1h-1zM613 354h1v1h-1zM614 355h1v1h-1zM615 356h1v1h-1zM616 357h1v1h-1zM617 358h1v1h-1zM618 359h1v1h-1zM619 360h1v1h-1zM620 361h1v1h-1zM621 362h1v1h-1zM624 364h1v1h-1zM625 365h1v1h-1zM628 367h1v1h-1zM629 368h1v1h-1zM677 369h1v1h-1zM680 367h1v1h-1zM681 366h1v1h-1zM684 364h1v1h-1zM841 359h1v1h-1zM846 362h1v1h-1zM849 364h1v1h-1zM852 366h1v1h-1zM907 361h1v1h-1zM910 359h1v1h-1zM913 357h1v1h-1zM916 355h1v1h-1zM919 353h1v1h-1zM920 352h1v1h-1zM921 351h1v1h-1zM922 349h1v2h-1zM923 348h1v1h-1zM924 347h1v1h-1zM925 346h1v1h-1zM926 345h1v1h-1zM927 343h1v2h-1zM928 342h1v1h-1zM929 341h1v1h-1zM930 340h1v1h-1zM931 338h1v2h-1zM932 336h1v2h-1zM933 334h1v2h-1zM934 332h1v2h-1zM935 330h1v2h-1zM936 328h1v2h-1zM937 327h1v1h-1zM938 325h1v2h-1zM939 323h1v2h-1zM940 321h1v2h-1zM941 319h1v2h-1zM942 317h1v2h-1zM943 315h1v2h-1zM944 314h1v1h-1zM945 313h1v1h-1zM946 311h1v2h-1zM947 310h1v1h-1zM948 309h1v1h-1zM949 307h1v2h-1zM950 306h1v1h-1zM951 305h1v1h-1zM954 303h1v1h-1zM955 302h1v1h-1zM958 300h1v1h-1zM959 299h1v1h-1zM962 297h1v1h-1zM963 296h1v1h-1zM964 295h1v1h-1zM965 294h1v1h-1zM966 293h1v1h-1zM967 291h1v2h-1zM968 290h1v1h-1zM969 289h1v1h-1zM970 288h1v1h-1zM971 287h1v1h-1zM972 286h1v1h-1zM973 285h1v1h-1zM974 284h1v1h-1zM975 283h1v1h-1zM976 282h1v1h-1zM979 280h1v1h-1zM980 279h1v1h-1zM981 278h1v1h-1zM982 277h1v1h-1zM983 276h1v1h-1zM984 275h1v1h-1zM985 274h1v1h-1zM986 273h1v1h-1zM987 272h1v1h-1zM988 271h1v1h-1zM991 269h1v1h-1zM992 268h1v1h-1zM993 267h1v1h-1zM994 266h1v1h-1zM1014 267h1v1h-1zM1015 268h1v2h-1zM1016 270h1v1h-1zM1017 271h1v1h-1zM1018 272h1v2h-1zM1019 274h1v1h-1zM1020 275h1v1h-1zM1021 276h1v1h-1zM1024 278h1v1h-1zM1025 279h1v1h-1zM1028 281h1v1h-1zM1029 282h1v1h-1zM1030 283h1v2h-1zM1031 285h1v1h-1zM1032 286h1v1h-1zM1033 287h1v1h-1zM1034 288h1v2h-1zM1035 290h1v1h-1zM1036 291h1v1h-1zM1037 292h1v2h-1zM1038 294h1v1h-1zM1039 295h1v2h-1zM1040 297h1v1h-1zM1041 298h1v2h-1zM1042 300h1v1h-1zM1171 298h1v1h-1zM1174 296h1v1h-1zM1175 295h1v1h-1zM1176 294h1v1h-1zM1177 293h1v1h-1zM1180 291h1v1h-1zM1181 290h1v1h-1zM1182 289h1v1h-1zM1185 287h1v1h-1zM1186 286h1v1h-1zM1187 284h1v2h-1zM1188 282h1v2h-1zM1189 280h1v2h-1zM1190 278h1v2h-1zM1191 276h1v2h-1zM1192 274h1v2h-1zM1193 272h1v2h-1zM1194 270h1v2h-1zM1195 268h1v2h-1zM1196 266h1v2h-1zM1197 264h1v2h-1zM1198 262h1v2h-1zM1199 259h1v3h-1zM1200 257h1v2h-1zM1201 254h1v3h-1zM1202 252h1v2h-1zM1203 250h1v2h-1zM1204 248h1v2h-1zM1205 246h1v2h-1zM1206 244h1v2h-1zM1207 243h1v1h-1zM1208 241h1v2h-1zM1209 239h1v2h-1zM1210 237h1v2h-1zM1231 238h1v1h-1zM1236 241h1v1h-1zM1239 243h1v1h-1zM1244 246h1v1h-1zM1245 247h1v2h-1zM1246 249h1v2h-1zM1247 251h1v2h-1zM1248 253h1v2h-1zM1249 255h1v2h-1zM1250 257h1v2h-1zM1251 259h1v2h-1zM1252 261h1v1h-1zM1253 262h1v2h-1zM1254 264h1v2h-1zM1255 266h1v2h-1zM1256 268h1v1h-1zM1257 269h1v2h-1zM1258 271h1v2h-1zM1259 273h1v2h-1zM1260 275h1v1h-1zM1261 276h1v2h-1zM1262 278h1v1h-1zM1263 279h1v1h-1zM1264 280h1v2h-1zM1265 282h1v1h-1zM1266 283h1v1h-1zM1267 284h1v1h-1zM1268 285h1v1h-1zM1269 286h1v1h-1zM1270 287h1v2h-1zM1271 289h1v1h-1zM1272 290h1v1h-1zM1273 291h1v1h-1zM1274 292h1v2h-1zM1275 294h1v1h-1zM1276 295h1v2h-1zM1277 297h1v2h-1zM1278 299h1v2h-1zM1279 301h1v3h-1zM1280 304h1v2h-1zM1281 306h1v4h-1zM1282 310h1v4h-1zM1283 314h1v4h-1zM1284 318h1v4h-1zM1285 322h1v2h-1zM1286 324h1v2h-1zM1287 326h1v3h-1zM1288 329h1v2h-1zM1289 331h1v3h-1zM1290 334h1v2h-1zM1291 336h1v2h-1zM1292 338h1v2h-1zM1293 340h1v2h-1zM1294 342h1v2h-1zM1295 344h1v2h-1zM1296 346h1v2h-1zM1297 348h1v2h-1zM1298 350h1v2h-1zM1299 352h1v2h-1zM1300 354h1v2h-1zM1301 356h1v2h-1zM1302 358h1v2h-1zM1303 360h1v2h-1zM1304 362h1v2h-1zM1305 364h1v2h-1zM1306 366h1v2h-1zM1307 368h1v2h-1zM1308 370h1v3h-1zM1309 373h1v2h-1zM1310 375h1v2h-1zM1311 377h1v3h-1zM1312 380h1v2h-1zM1313 382h1v2h-1zM1314 384h1v3h-1zM1315 387h1v2h-1zM1316 389h1v2h-1zM1317 391h1v2h-1zM1318 393h1v2h-1zM1319 395h1v2h-1zM1320 397h1v2h-1zM1321 399h1v1h-1zM1322 400h1v2h-1zM1323 402h1v1h-1zM1324 403h1v2h-1zM1325 405h1v1h-1zM1326 406h1v1h-1zM1327 407h1v2h-1zM1328 409h1v1h-1zM1329 410h1v1h-1zM1330 411h1v2h-1zM1331 413h1v1h-1zM1332 414h1v1h-1zM1333 415h1v1h-1zM1334 416h1v2h-1zM1335 418h1v1h-1zM1336 419h1v1h-1zM1337 420h1v2h-1zM1338 422h1v1h-1zM1339 423h1v1h-1zM1340 424h1v1h-1zM1341 425h1v1h-1zM1342 426h1v1h-1zM1343 427h1v1h-1zM1344 428h1v1h-1zM1345 429h1v2h-1zM1346 431h1v1h-1zM1347 432h1v1h-1zM1348 433h1v1h-1zM1349 434h1v1h-1zM1350 435h1v1h-1zM1351 436h1v1h-1zM1352 437h1v1h-1zM1353 438h1v1h-1zM1354 439h1v1h-1zM1355 440h1v1h-1zM1358 442h1v1h-1zM1359 443h1v1h-1zM1360 444h1v1h-1zM1380 452h1v1h-1zM1381 453h1v1h-1zM1382 454h1v1h-1zM1385 456h1v1h-1zM1386 457h1v1h-1zM1387 458h1v1h-1zM1388 459h1v2h-1zM1389 461h1v2h-1zM1390 463h1v1h-1zM1391 464h1v2h-1zM1392 466h1v2h-1zM1393 468h1v1h-1zM1394 469h1v2h-1zM1395 471h1v2h-1zM1396 473h1v2h-1zM1397 475h1v2h-1zM1398 477h1v2h-1zM1399 479h1v2h-1zM1400 481h1v3h-1zM1401 484h1v2h-1zM1402 486h1v2h-1zM1403 488h1v2h-1zM1404 490h1v3h-1zM1405 493h1v2h-1zM1406 495h1v3h-1zM1407 498h1v2h-1zM1408 500h1v3h-1zM1409 503h1v2h-1zM1410 505h1v3h-1zM1411 508h1v2h-1zM1412 510h1v2h-1zM1413 512h1v2h-1zM1414 514h1v2h-1zM1415 516h1v2h-1zM1416 518h1v2h-1zM1417 520h1v2h-1zM1418 522h1v2h-1zM1419 524h1v2h-1zM1420 526h1v2h-1z"/>
<rect x="0" y="454" width="1647" height="1" fill="#ff0000"/>
<rect x="0" y="478" width="1647" height="1" fill="#ff0000"/>
<rect x="0" y="506" width="1647" height="1" fill="#32cd32"/>
<rect x="0" y="517" width="1647" height="1" fill="#c0c0c0"/>
<rect x="0" y="551" width="1647" height="1" fill="#0000ff"/>
<rect x="0" y="576" width="1647" height="1" fill="#0000ff"/>
<path fill="#000" d="M4 118h1v10h-1zM12 111h1v21h-1zM20 118h1v19h-1zM28 130h1v18h-1zM36 133h1v14h-1zM44 145h1v32h-1zM52 157h1v10h-1zM60 118h1v33h-1zM68 144h1v26h-1zM76 157h1v33h-1zM84 167h1v22h-1zM92 154h1v19h-1zM100 150h1v21h-1zM108 168h1v24h-1zM116 172h1v25h-1zM124 183h1v19h-1zM132 186h1v12h-1zM140 171h1v29h-1zM148 183h1v11h-1zM156 184h1v33h-1zM164 167h1v49h-1zM172 160h1v29h-1zM180 143h1v35h-1zM188 126h1v23h-1zM196 140h1v15h-1zM204 133h1v22h-1zM212 136h1v15h-1zM220 115h1v26h-1zM228 108h1v12h-1zM236 117h1v14h-1zM244 116h1v12h-1zM252 138h1v17h-1zM260 142h1v11h-1zM268 164h1v25h-1zM276 166h1v19h-1zM284 162h1v15h-1zM292 171h1v12h-1zM300 186h1v17h-1zM308 193h1v13h-1zM316 193h1v15h-1zM324 181h1v22h-1zM332 191h1v20h-1zM340 189h1v9h-1zM348 212h1v28h-1zM356 237h1v16h-1zM364 241h1v25h-1zM372 258h1v17h-1zM380 264h1v33h-1zM388 288h1v39h-1zM396 265h1v34h-1zM404 263h1v27h-1zM412 270h1v28h-1zM420 269h1v14h-1zM428 279h1v23h-1zM436 265h1v23h-1zM444 284h1v23h-1zM452 293h1v18h-1zM460 272h1v22h-1zM468 250h1v28h-1zM476 241h1v20h-1zM484 249h1v10h-1zM492 225h1v15h-1zM500 228h1v12h-1zM508 234h1v21h-1zM516 241h1v19h-1zM524 220h1v21h-1zM532 231h1v28h-1zM540 267h1v18h-1zM548 278h1v12h-1zM556 273h1v17h-1zM564 279h1v30h-1zM572 304h1v20h-1zM580 291h1v24h-1zM588 289h1v34h-1zM596 310h1v15h-1zM604 320h1v27h-1zM612 337h1v27h-1zM620 341h1v15h-1zM628 328h1v20h-1zM636 314h1v20h-1zM644 324h1v13h-1zM652 313h1v20h-1zM660 315h1v11h-1zM668 301h1v19h-1zM676 307h1v20h-1zM684 304h1v15h-1zM692 310h1v21h-1zM700 326h1v10h-1zM708 315h1v17h-1zM716 320h1v18h-1zM724 285h1v20h-1zM732 283h1v35h-1zM740 311h1v10h-1zM748 300h1v24h-1zM756 304h1v17h-1zM764 308h1v28h-1zM772 328h1v19h-1zM780 331h1v29h-1zM788 327h1v29h-1zM796 302h1v22h-1zM804 292h1v17h-1zM812 273h1v29h-1zM820 269h1v15h-1zM828 264h1v28h-1zM836 266h1v23h-1zM844 232h1v25h-1zM852 219h1v16h-1zM860 208h1v14h-1zM868 212h1v16h-1zM876 227h1v14h-1zM884 220h1v18h-1zM892 218h1v20h-1zM900 232h1v14h-1zM908 220h1v22h-1zM916 239h1v13h-1zM924 229h1v17h-1zM932 244h1v14h-1zM940 194h1v41h-1zM948 170h1v24h-1zM956 172h1v20h-1zM964 174h1v18h-1zM972 190h1v16h-1zM980 188h1v18h-1zM988 225h1v23h-1zM996 225h1v30h-1zM1004 215h1v21h-1zM1012 229h1v17h-1zM1020 245h1v39h-1zM1028 266h1v26h-1zM1036 263h1v31h-1zM1044 282h1v22h-1zM1052 256h1v44h-1zM1060 213h1v31h-1zM1068 202h1v15h-1zM1076 204h1v21h-1zM1084 207h1v14h-1zM1092 205h1v33h-1zM1100 219h1v23h-1zM1108 182h1v15h-1zM1116 177h1v14h-1zM1124 164h1v35h-1zM1132 168h1v26h-1zM1140 174h1v18h-1zM1148 177h1v15h-1zM1156 191h1v22h-1zM1164 199h1v18h-1zM1172 206h1v17h-1zM1180 209h1v26h-1zM1188 191h1v17h-1zM1196 190h1v13h-1zM1204 180h1v27h-1zM1212 185h1v25h-1zM1220 189h1v18h-1zM1228 191h1v39h-1zM1236 233h1v17h-1zM1244 233h1v20h-1zM1252 264h1v43h-1zM1260 284h1v21h-1zM1268 277h1v16h-1zM1276 273h1v7h-1zM1284 310h1v46h-1zM1292 342h1v18h-1zM1300 338h1v27h-1zM1308 349h1v17h-1zM1316 356h1v34h-1zM1324 362h1v28h-1zM1332 355h1v12h-1zM1340 345h1v31h-1zM1348 366h1v20h-1zM1356 377h1v23h-1zM1364 381h1v13h-1zM1372 382h1v12h-1zM1380 422h1v19h-1zM1388 423h1v15h-1zM1396 468h1v55h-1zM1404 478h1v33h-1zM1412 480h1v34h-1zM1420 498h1v39h-1z"/>
<path fill="#000" d="M2 121h5v1h-5zM10 123h5v2h-5zM18 125h5v11h-5zM26 130h5v6h-5zM34 138h5v6h-5zM42 147h5v18h-5zM50 161h5v6h-5zM58 130h5v16h-5zM66 144h5v26h-5zM74 175h5v11h-5zM82 168h5v18h-5zM90 160h5v6h-5zM98 153h5v13h-5zM106 173h5v3h-5zM114 173h5v7h-5zM122 192h5v4h-5zM130 191h5v3h-5zM138 182h5v12h-5zM146 188h5v6h-5zM154 195h5v17h-5zM162 168h5v45h-5zM170 176h5v8h-5zM178 153h5v25h-5zM186 130h5v17h-5zM194 145h5v1h-5zM202 137h5v11h-5zM210 138h5v11h-5zM218 116h5v24h-5zM226 116h5v2h-5zM234 124h5v1h-5zM242 117h5v7h-5zM250 140h5v7h-5zM258 144h5v3h-5zM266 175h5v8h-5zM274 170h5v14h-5zM282 170h5v4h-5zM290 173h5v3h-5zM298 196h5v3h-5zM306 195h5v10h-5zM314 201h5v4h-5zM322 195h5v6h-5zM330 194h5v3h-5zM338 191h5v3h-5zM346 212h5v26h-5zM354 237h5v14h-5zM362 258h5v4h-5zM370 261h5v14h-5zM378 266h5v24h-5zM386 291h5v5h-5zM394 270h5v23h-5zM402 268h5v18h-5zM410 277h5v19h-5zM418 274h5v3h-5zM426 283h5v2h-5zM434 270h5v15h-5zM442 296h5v5h-5zM450 295h5v13h-5zM458 276h5v4h-5zM466 251h5v27h-5zM474 245h5v12h-5zM482 252h5v4h-5zM490 236h5v4h-5zM498 235h5v5h-5zM506 240h5v12h-5zM514 242h5v13h-5zM522 233h5v3h-5zM530 233h5v19h-5zM538 278h5v3h-5zM546 281h5v5h-5zM554 277h5v2h-5zM562 279h5v24h-5zM570 311h5v5h-5zM578 295h5v20h-5zM586 296h5v26h-5zM594 319h5v4h-5zM602 326h5v19h-5zM610 346h5v7h-5zM618 345h5v4h-5zM626 344h5v3h-5zM634 317h5v14h-5zM642 328h5v4h-5zM650 320h5v3h-5zM658 317h5v6h-5zM666 306h5v8h-5zM674 308h5v7h-5zM682 305h5v10h-5zM690 312h5v17h-5zM698 328h5v3h-5zM706 323h5v5h-5zM714 323h5v1h-5zM722 296h5v5h-5zM730 295h5v21h-5zM738 314h5v3h-5zM746 304h5v14h-5zM754 310h5v6h-5zM762 314h5v13h-5zM770 328h5v16h-5zM778 344h5v6h-5zM786 335h5v16h-5zM794 307h5v6h-5zM802 296h5v12h-5zM810 279h5v15h-5zM818 277h5v2h-5zM826 267h5v16h-5zM834 267h5v11h-5zM842 234h5v18h-5zM850 226h5v9h-5zM858 208h5v10h-5zM866 214h5v3h-5zM874 233h5v4h-5zM882 220h5v15h-5zM890 218h5v15h-5zM898 234h5v2h-5zM906 229h5v8h-5zM914 240h5v9h-5zM922 241h5v2h-5zM930 246h5v1h-5zM938 194h5v37h-5zM946 170h5v24h-5zM954 177h5v12h-5zM962 178h5v10h-5zM970 194h5v3h-5zM978 195h5v5h-5zM986 228h5v8h-5zM994 231h5v5h-5zM1002 221h5v10h-5zM1010 229h5v3h-5zM1018 245h5v38h-5zM1026 269h5v12h-5zM1034 264h5v23h-5zM1042 289h5v12h-5zM1050 268h5v20h-5zM1058 216h5v16h-5zM1066 207h5v10h-5zM1074 210h5v5h-5zM1082 211h5v4h-5zM1090 213h5v25h-5zM1098 225h5v11h-5zM1106 185h5v10h-5zM1114 184h5v1h-5zM1122 167h5v26h-5zM1130 170h5v23h-5zM1138 176h5v12h-5zM1146 181h5v1h-5zM1154 198h5v5h-5zM1162 202h5v15h-5zM1170 217h5v3h-5zM1178 211h5v9h-5zM1186 196h5v5h-5zM1194 193h5v3h-5zM1202 191h5v16h-5zM1210 194h5v13h-5zM1218 193h5v9h-5zM1226 195h5v32h-5zM1234 238h5v4h-5zM1242 237h5v1h-5zM1250 264h5v35h-5zM1258 288h5v9h-5zM1266 278h5v9h-5zM1274 277h5v3h-5zM1282 321h5v27h-5zM1290 345h5v6h-5zM1298 343h5v8h-5zM1306 353h5v12h-5zM1314 362h5v25h-5zM1322 363h5v25h-5zM1330 355h5v12h-5zM1338 366h5v6h-5zM1346 380h5v1h-5zM1354 380h5v11h-5zM1362 388h5v4h-5zM1370 388h5v1h-5zM1378 435h5v3h-5zM1386 431h5v5h-5zM1394 468h5v24h-5zM1402 492h5v17h-5zM1410 508h5v1h-5zM1418 510h5v7h-5z"/>
<path fill="#fff" d="M51 162h3v4h-3zM83 169h3v16h-3zM99 154h3v11h-3zM107 174h3v1h-3zM123 193h3v2h-3zM131 192h3v1h-3zM147 189h3v4h-3zM163 169h3v43h-3zM171 177h3v6h-3zM179 154h3v23h-3zM211 139h3v9h-3zM219 117h3v22h-3zM243 118h3v5h-3zM259 145h3v1h-3zM275 171h3v12h-3zM299 197h3v1h-3zM315 202h3v2h-3zM323 196h3v4h-3zM331 195h3v1h-3zM339 192h3v1h-3zM363 259h3v2h-3zM395 271h3v21h-3zM411 278h3v17h-3zM419 275h3v1h-3zM435 271h3v13h-3zM443 297h3v3h-3zM467 252h3v25h-3zM483 253h3v2h-3zM491 237h3v2h-3zM507 241h3v10h-3zM523 234h3v1h-3zM579 296h3v18h-3zM619 346h3v2h-3zM627 345h3v1h-3zM643 329h3v2h-3zM659 318h3v4h-3zM683 306h3v8h-3zM707 324h3v3h-3zM739 315h3v1h-3zM755 311h3v4h-3zM787 336h3v14h-3zM795 308h3v4h-3zM803 297h3v10h-3zM811 280h3v13h-3zM827 268h3v14h-3zM843 235h3v16h-3zM851 227h3v7h-3zM867 215h3v1h-3zM883 221h3v13h-3zM939 195h3v35h-3zM947 171h3v22h-3zM963 179h3v8h-3zM971 195h3v1h-3zM987 229h3v6h-3zM1011 230h3v1h-3zM1027 270h3v10h-3zM1051 269h3v18h-3zM1059 217h3v14h-3zM1067 208h3v8h-3zM1099 226h3v9h-3zM1107 186h3v8h-3zM1131 171h3v21h-3zM1139 177h3v10h-3zM1179 212h3v7h-3zM1187 197h3v3h-3zM1195 194h3v1h-3zM1211 195h3v11h-3zM1219 194h3v7h-3zM1235 239h3v2h-3zM1259 289h3v7h-3zM1267 279h3v7h-3zM1323 364h3v23h-3zM1363 389h3v2h-3zM1379 436h3v1h-3zM1387 432h3v3h-3z"/>
<line x1="1219.5" y1="193.0" x2="1424.7" y2="513.3" stroke="#ff0000" stroke-width="3.6"/>
<polygon fill="#ff0000" points="1430.6,522.6 1419.5,515.5 1428.8,509.5"/>
<rect x="541.5" y="354.5" width="61" height="18" fill="#fff" stroke="#ff0000" stroke-width="1"/>
<text class="r" x="572.0" y="370" font-size="16.5" fill="#ff0000"text-anchor="middle" textLength="57.5" lengthAdjust="spacingAndGlyphs" shape-rendering="auto">22655.0</text>
<path d="M603 363.5H612" fill="none" stroke="#ff0000" stroke-width="1"/>
<rect x="1053.5" y="155.5" width="61" height="18" fill="#fff" stroke="#ff0000" stroke-width="1"/>
<text class="r" x="1084.0" y="171" font-size="16.5" fill="#ff0000"text-anchor="middle" textLength="57.5" lengthAdjust="spacingAndGlyphs" shape-rendering="auto">25058.8</text>
<path d="M1115 164.5H1124" fill="none" stroke="#ff0000" stroke-width="1"/>
<rect x="1181.5" y="297.5" width="61" height="18" fill="#fff" stroke="#ff0000" stroke-width="1"/>
<text class="r" x="1212.0" y="313" font-size="16.5" fill="#ff0000"text-anchor="middle" textLength="57.5" lengthAdjust="spacingAndGlyphs" shape-rendering="auto">23342.1</text>
<path d="M1243 306.5H1252" fill="none" stroke="#ff0000" stroke-width="1"/>
<rect x="1351.5" y="336.5" width="60" height="18" fill="#fff" stroke="#ff0000" stroke-width="1"/>
<text class="r" x="1381.5" y="352" font-size="16.5" fill="#ff0000"text-anchor="middle" textLength="57" lengthAdjust="spacingAndGlyphs" shape-rendering="auto">22866.2</text>
<path d="M1341 345.5H1351" fill="none" stroke="#ff0000" stroke-width="1"/>
<rect x="1247.5" y="495.5" width="73" height="23" fill="#fff" stroke="#ff0000" stroke-width="1"/>
<text class="r" x="1284.0" y="515.5" font-size="23" fill="#ff0000"text-anchor="middle" textLength="69.5" lengthAdjust="spacingAndGlyphs" shape-rendering="auto">20927.0</text>
<path d="M1237 506.5H1244" fill="none" stroke="#ff0000" stroke-width="1"/>
<rect x="1244.5" y="505.5" width="2" height="2" fill="#fff" stroke="#ff0000"/>
<rect x="1349.5" y="527.5" width="61" height="18" fill="#fff" stroke="#ff0000" stroke-width="1"/>
<text class="r" x="1380.0" y="543" font-size="16.5" fill="#ff0000"text-anchor="middle" textLength="57.5" lengthAdjust="spacingAndGlyphs" shape-rendering="auto">20563.1</text>
<rect x="1411.5" y="534.5" width="2" height="3" fill="#fff" stroke="#ff0000"/>
<path d="M1414 536.5H1420" fill="none" stroke="#ff0000" stroke-width="1"/>
<g fill="#c0c0c0">
<path d="M4 607h1v34h-1zM12 613h1v28h-1zM20 619h1v22h-1zM28 624h1v17h-1zM36 629h1v12h-1zM44 637h1v4h-1zM52 641h1v1h-1zM68 641h1v5h-1zM76 641h1v11h-1zM84 641h1v14h-1zM92 641h1v15h-1zM100 641h1v14h-1zM108 641h1v15h-1zM116 641h1v18h-1zM124 641h1v21h-1zM132 641h1v22h-1zM140 641h1v23h-1zM148 641h1v24h-1zM156 641h1v27h-1zM164 641h1v23h-1zM172 641h1v21h-1zM180 641h1v16h-1zM188 641h1v11h-1zM196 641h1v7h-1zM204 641h1v4h-1zM212 641h1v1h-1zM220 637h1v4h-1zM228 633h1v8h-1zM236 631h1v10h-1zM244 628h1v13h-1zM252 630h1v11h-1zM260 632h1v9h-1zM268 638h1v3h-1zM284 641h1v1h-1zM292 641h1v5h-1zM300 641h1v9h-1zM308 641h1v13h-1zM316 641h1v16h-1zM324 641h1v17h-1zM332 641h1v18h-1zM340 641h1v18h-1zM348 641h1v25h-1zM356 641h1v30h-1zM364 641h1v36h-1zM372 641h1v41h-1zM380 641h1v47h-1zM388 641h1v53h-1zM396 641h1v53h-1zM404 641h1v53h-1zM412 641h1v53h-1zM420 641h1v51h-1zM428 641h1v51h-1zM436 641h1v49h-1zM444 641h1v51h-1zM452 641h1v52h-1zM460 641h1v48h-1zM468 641h1v41h-1zM476 641h1v35h-1zM484 641h1v30h-1zM492 641h1v25h-1zM500 641h1v20h-1zM508 641h1v16h-1zM516 641h1v14h-1zM524 641h1v11h-1zM532 641h1v10h-1zM540 641h1v13h-1zM548 641h1v16h-1zM556 641h1v18h-1zM564 641h1v21h-1zM572 641h1v25h-1zM580 641h1v26h-1zM588 641h1v29h-1zM596 641h1v32h-1zM604 641h1v37h-1zM612 641h1v41h-1zM620 641h1v43h-1zM628 641h1v43h-1zM636 641h1v42h-1zM644 641h1v40h-1zM652 641h1v37h-1zM660 641h1v33h-1zM668 641h1v30h-1zM676 641h1v28h-1zM684 641h1v23h-1zM692 641h1v23h-1zM700 641h1v23h-1zM708 641h1v21h-1zM716 641h1v21h-1zM724 641h1v15h-1zM732 641h1v14h-1zM740 641h1v13h-1zM748 641h1v11h-1zM756 641h1v10h-1zM764 641h1v11h-1zM772 641h1v13h-1zM780 641h1v14h-1zM788 641h1v13h-1zM796 641h1v11h-1zM804 641h1v8h-1zM812 641h1v1h-1zM820 639h1v2h-1zM828 634h1v7h-1zM836 631h1v10h-1zM844 624h1v17h-1zM852 617h1v24h-1zM860 611h1v30h-1zM868 606h1v35h-1zM876 606h1v35h-1zM884 604h1v37h-1zM892 604h1v37h-1zM900 605h1v36h-1zM908 607h1v34h-1zM916 610h1v31h-1zM924 612h1v29h-1zM932 614h1v27h-1zM940 610h1v31h-1zM948 603h1v38h-1zM956 601h1v40h-1zM964 598h1v43h-1zM972 598h1v43h-1zM980 601h1v40h-1zM988 606h1v35h-1zM996 612h1v29h-1zM1004 616h1v25h-1zM1012 619h1v22h-1zM1020 629h1v12h-1zM1028 635h1v6h-1zM1036 641h1v1h-1zM1044 641h1v7h-1zM1052 641h1v9h-1zM1060 641h1v4h-1zM1068 640h1v1h-1zM1076 636h1v5h-1zM1084 634h1v7h-1zM1092 635h1v6h-1zM1100 634h1v7h-1zM1108 628h1v13h-1zM1116 624h1v17h-1zM1124 622h1v19h-1zM1132 617h1v24h-1zM1140 615h1v26h-1zM1148 614h1v27h-1zM1156 617h1v24h-1zM1164 620h1v21h-1zM1172 624h1v17h-1zM1180 626h1v15h-1zM1188 626h1v15h-1zM1196 626h1v15h-1zM1204 627h1v14h-1zM1212 627h1v14h-1zM1220 627h1v14h-1zM1228 632h1v9h-1zM1236 637h1v4h-1zM1252 641h1v10h-1zM1260 641h1v16h-1zM1268 641h1v21h-1zM1276 641h1v24h-1zM1284 641h1v36h-1zM1292 641h1v44h-1zM1300 641h1v51h-1zM1308 641h1v57h-1zM1316 641h1v63h-1zM1324 641h1v65h-1zM1332 641h1v67h-1zM1340 641h1v67h-1zM1348 641h1v68h-1zM1356 641h1v70h-1zM1364 641h1v70h-1zM1372 641h1v70h-1zM1380 641h1v73h-1zM1388 641h1v76h-1zM1396 641h1v85h-1zM1404 641h1v92h-1zM1412 641h1v98h-1zM1420 641h1v101h-1z"/></g>
<path fill="#ff0000" d="M0 591h2v1h-2zM6 593h2v1h-2zM12 595h2v1h-2zM19 598h2v1h-2zM24 600h2v1h-2zM31 604h2v1h-2zM978 604h3v1h-3zM984 604h3v1h-3zM990 604h3v1h-3zM996 604h3v1h-3zM1002 604h3v1h-3zM1008 604h2v1h-2zM966 605h3v1h-3zM972 605h3v1h-3zM918 606h3v1h-3zM924 606h3v1h-3zM930 606h2v1h-2zM949 606h2v1h-2zM954 606h3v1h-3zM960 606h3v1h-3zM1014 606h3v1h-3zM36 607h2v1h-2zM907 607h2v1h-2zM912 607h3v1h-3zM936 607h3v1h-3zM942 607h3v1h-3zM1021 608h2v1h-2zM901 610h2v1h-2zM42 611h2v1h-2zM894 613h2v1h-2zM48 615h2v1h-2zM889 615h2v1h-2zM1033 615h2v1h-2zM883 618h2v1h-2zM54 619h2v1h-2zM1039 619h2v1h-2zM1170 619h3v1h-3zM1176 619h3v1h-3zM1182 619h3v1h-3zM1188 619h3v1h-3zM1164 620h3v1h-3zM1194 620h3v1h-3zM1158 621h3v1h-3zM1200 621h3v1h-3zM1206 621h3v1h-3zM876 622h2v1h-2zM1153 622h2v1h-2zM1212 622h3v1h-3zM1218 623h3v1h-3zM61 624h2v1h-2zM1146 624h3v1h-3zM1224 624h2v1h-2zM1230 625h2v1h-2zM1141 626h2v1h-2zM1236 626h2v1h-2zM66 627h2v1h-2zM1051 627h2v1h-2zM1242 628h2v1h-2zM1134 629h2v1h-2zM1056 630h2v1h-2zM72 631h2v1h-2zM1128 631h2v1h-2zM1248 631h2v1h-2zM1123 632h2v1h-2zM859 633h2v1h-2zM1063 633h2v1h-2zM1254 633h3v1h-3zM276 634h3v1h-3zM282 634h3v1h-3zM288 634h3v1h-3zM1068 634h2v1h-2zM1260 634h2v1h-2zM79 635h2v1h-2zM264 635h3v1h-3zM270 635h3v1h-3zM1116 635h2v1h-2zM295 636h2v1h-2zM853 636h2v1h-2zM258 637h2v1h-2zM1075 637h2v1h-2zM1110 637h3v1h-3zM84 638h2v1h-2zM252 638h3v1h-3zM301 638h2v1h-2zM1081 639h2v1h-2zM1104 639h2v1h-2zM1267 639h2v1h-2zM246 640h3v1h-3zM306 640h3v1h-3zM847 640h2v1h-2zM1086 640h3v1h-3zM1092 640h3v1h-3zM1098 640h3v1h-3zM90 641h2v1h-2zM240 642h3v1h-3zM313 642h2v1h-2zM840 643h2v1h-2zM1273 643h2v1h-2zM96 644h2v1h-2zM319 644h2v1h-2zM234 645h2v1h-2zM835 645h2v1h-2zM1278 646h2v1h-2zM103 647h2v1h-2zM325 647h2v1h-2zM108 648h2v1h-2zM228 648h2v1h-2zM828 648h2v1h-2zM330 649h2v1h-2zM823 649h2v1h-2zM114 650h2v1h-2zM817 650h2v1h-2zM222 651h2v1h-2zM336 651h2v1h-2zM1285 651h2v1h-2zM810 652h2v1h-2zM121 653h2v1h-2zM342 653h2v1h-2zM805 653h2v1h-2zM216 654h2v1h-2zM786 654h3v1h-3zM792 654h3v1h-3zM798 654h3v1h-3zM126 655h3v1h-3zM774 655h3v1h-3zM780 655h2v1h-2zM211 656h2v1h-2zM349 656h2v1h-2zM570 656h3v1h-3zM768 656h3v1h-3zM133 657h2v1h-2zM558 657h3v1h-3zM564 657h2v1h-2zM576 657h3v1h-3zM762 657h3v1h-3zM138 658h3v1h-3zM205 658h2v1h-2zM354 658h3v1h-3zM552 658h3v1h-3zM582 658h2v1h-2zM756 658h3v1h-3zM144 659h3v1h-3zM547 659h2v1h-2zM750 659h3v1h-3zM150 660h3v1h-3zM198 660h3v1h-3zM360 660h2v1h-2zM588 660h3v1h-3zM744 660h3v1h-3zM156 661h3v1h-3zM193 661h2v1h-2zM540 661h3v1h-3zM738 661h3v1h-3zM162 662h3v1h-3zM168 662h3v1h-3zM186 662h3v1h-3zM594 662h2v1h-2zM733 662h2v1h-2zM174 663h3v1h-3zM180 663h3v1h-3zM367 663h2v1h-2zM534 663h2v1h-2zM726 664h3v1h-3zM529 665h2v1h-2zM601 665h2v1h-2zM373 666h2v1h-2zM606 666h3v1h-3zM720 666h2v1h-2zM612 667h2v1h-2zM714 667h3v1h-3zM523 668h2v1h-2zM379 669h2v1h-2zM708 669h2v1h-2zM618 670h2v1h-2zM517 671h2v1h-2zM702 671h2v1h-2zM385 672h2v1h-2zM625 673h2v1h-2zM696 673h2v1h-2zM511 674h2v1h-2zM691 674h2v1h-2zM391 675h2v1h-2zM631 675h2v1h-2zM636 676h2v1h-2zM684 676h3v1h-3zM505 677h2v1h-2zM678 677h3v1h-3zM397 678h2v1h-2zM642 678h3v1h-3zM667 678h2v1h-2zM672 678h3v1h-3zM648 679h3v1h-3zM654 679h3v1h-3zM660 679h3v1h-3zM498 680h2v1h-2zM403 681h2v1h-2zM492 682h3v1h-3zM408 683h2v1h-2zM487 684h2v1h-2zM415 686h2v1h-2zM480 687h2v1h-2zM420 688h3v1h-3zM474 688h3v1h-3zM426 690h3v1h-3zM468 690h2v1h-2zM1332 690h2v1h-2zM432 691h3v1h-3zM462 691h3v1h-3zM438 692h3v1h-3zM456 692h3v1h-3zM445 693h2v1h-2zM450 693h3v1h-3zM1339 694h2v1h-2zM1344 697h2v1h-2zM1350 700h3v1h-3zM1356 702h2v1h-2zM1362 704h3v1h-3zM1368 705h2v1h-2zM1374 707h3v1h-3zM1381 709h2v1h-2zM1387 710h2v1h-2zM1392 710h2v1h-2zM1398 712h3v1h-3zM1405 715h2v1h-2zM1410 717h2v1h-2zM1416 720h2v1h-2zM2 592h1v1h-1zM8 594h1v1h-1zM14 596h1v1h-1zM18 597h1v1h-1zM26 601h1v1h-1zM30 603h1v1h-1zM38 608h1v1h-1zM44 612h1v1h-1zM50 616h1v1h-1zM56 620h1v1h-1zM60 623h1v1h-1zM68 628h1v1h-1zM74 632h1v1h-1zM78 634h1v1h-1zM86 639h1v1h-1zM92 642h1v1h-1zM98 645h1v1h-1zM102 646h1v1h-1zM110 649h1v1h-1zM116 651h1v1h-1zM120 652h1v1h-1zM132 656h1v1h-1zM192 662h1v1h-1zM204 659h1v1h-1zM210 657h1v1h-1zM218 653h1v1h-1zM224 650h1v1h-1zM230 647h1v1h-1zM236 644h1v1h-1zM260 636h1v1h-1zM294 635h1v1h-1zM300 637h1v1h-1zM312 641h1v1h-1zM318 643h1v1h-1zM324 646h1v1h-1zM332 650h1v1h-1zM338 652h1v1h-1zM344 654h1v1h-1zM348 655h1v1h-1zM362 661h1v1h-1zM366 662h1v1h-1zM372 665h1v1h-1zM378 668h1v1h-1zM384 671h1v1h-1zM390 674h1v1h-1zM396 677h1v1h-1zM402 680h1v1h-1zM410 684h1v1h-1zM414 685h1v1h-1zM444 692h1v1h-1zM470 689h1v1h-1zM482 686h1v1h-1zM486 685h1v1h-1zM500 679h1v1h-1zM504 678h1v1h-1zM510 675h1v1h-1zM516 672h1v1h-1zM522 669h1v1h-1zM528 666h1v1h-1zM536 662h1v1h-1zM546 660h1v1h-1zM566 656h1v1h-1zM584 659h1v1h-1zM596 663h1v1h-1zM600 664h1v1h-1zM614 668h1v1h-1zM620 671h1v1h-1zM624 672h1v1h-1zM630 674h1v1h-1zM638 677h1v1h-1zM666 679h1v1h-1zM690 675h1v1h-1zM698 672h1v1h-1zM704 670h1v1h-1zM710 668h1v1h-1zM722 665h1v1h-1zM732 663h1v1h-1zM782 654h1v1h-1zM804 654h1v1h-1zM812 651h1v1h-1zM816 651h1v1h-1zM822 650h1v1h-1zM830 647h1v1h-1zM834 646h1v1h-1zM842 642h1v1h-1zM846 641h1v1h-1zM852 637h1v1h-1zM858 634h1v1h-1zM864 631h1v1h-1zM865 630h1v1h-1zM866 629h1v1h-1zM870 627h1v1h-1zM871 626h1v1h-1zM872 625h1v1h-1zM878 621h1v1h-1zM882 619h1v1h-1zM888 616h1v1h-1zM896 612h1v1h-1zM900 611h1v1h-1zM906 608h1v1h-1zM932 607h1v1h-1zM948 607h1v1h-1zM1010 605h1v1h-1zM1020 607h1v1h-1zM1026 610h1v1h-1zM1027 611h1v1h-1zM1028 612h1v1h-1zM1032 614h1v1h-1zM1038 618h1v1h-1zM1044 622h1v1h-1zM1045 623h1v1h-1zM1046 624h1v1h-1zM1050 626h1v1h-1zM1058 631h1v1h-1zM1062 632h1v1h-1zM1070 635h1v1h-1zM1074 636h1v1h-1zM1080 638h1v1h-1zM1106 638h1v1h-1zM1118 634h1v1h-1zM1122 633h1v1h-1zM1130 630h1v1h-1zM1136 628h1v1h-1zM1140 627h1v1h-1zM1152 623h1v1h-1zM1226 625h1v1h-1zM1232 626h1v1h-1zM1238 627h1v1h-1zM1244 629h1v1h-1zM1250 632h1v1h-1zM1262 635h1v1h-1zM1266 638h1v1h-1zM1272 642h1v1h-1zM1280 647h1v1h-1zM1284 650h1v1h-1zM1290 654h1v1h-1zM1291 655h1v1h-1zM1292 656h1v1h-1zM1296 659h1v1h-1zM1297 660h1v1h-1zM1298 661h1v1h-1zM1302 664h1v1h-1zM1303 665h1v1h-1zM1304 666h1v1h-1zM1308 669h1v1h-1zM1309 670h1v1h-1zM1310 671h1v1h-1zM1314 675h1v1h-1zM1315 676h1v1h-1zM1316 677h1v1h-1zM1320 680h1v1h-1zM1321 681h1v1h-1zM1322 682h1v1h-1zM1326 685h1v1h-1zM1327 686h1v1h-1zM1328 687h1v1h-1zM1334 691h1v1h-1zM1338 693h1v1h-1zM1346 698h1v1h-1zM1358 703h1v1h-1zM1370 706h1v1h-1zM1380 708h1v1h-1zM1386 709h1v1h-1zM1394 711h1v1h-1zM1404 714h1v1h-1zM1412 718h1v1h-1zM1418 721h1v1h-1z"/>
<line x1="0" y1="789.5" x2="1647" y2="789.5" stroke="#c0c0c0" stroke-width="1" stroke-dasharray="3 3"/>
<line x1="0" y1="840.5" x2="1647" y2="840.5" stroke="#c0c0c0" stroke-width="1" stroke-dasharray="3 3"/>
<line x1="0" y1="901.5" x2="1647" y2="901.5" stroke="#c0c0c0" stroke-width="1" stroke-dasharray="3 3"/>
<path fill="#1e90ff" d="M864 803h5v1h-5zM858 804h6v1h-6zM946 804h2v1h-2zM854 805h4v1h-4zM851 806h3v1h-3zM848 807h3v1h-3zM942 807h2v1h-2zM846 808h2v1h-2zM844 809h2v1h-2zM963 811h2v1h-2zM960 812h3v1h-3zM882 813h2v1h-2zM958 813h2v1h-2zM956 814h2v1h-2zM878 816h2v1h-2zM826 819h2v1h-2zM972 819h2v1h-2zM1132 819h2v1h-2zM220 820h9v1h-9zM824 820h2v1h-2zM830 820h2v1h-2zM892 820h2v1h-2zM974 820h2v1h-2zM1134 820h2v1h-2zM229 821h2v1h-2zM894 821h2v1h-2zM976 821h3v1h-3zM1136 821h3v1h-3zM243 822h2v1h-2zM812 822h4v1h-4zM821 822h2v1h-2zM896 822h3v1h-3zM979 822h2v1h-2zM1108 822h9v1h-9zM1128 822h2v1h-2zM1139 822h3v1h-3zM232 823h2v1h-2zM240 823h3v1h-3zM816 823h5v1h-5zM834 823h2v1h-2zM899 823h10v1h-10zM1117 823h2v1h-2zM1142 823h4v1h-4zM234 824h2v1h-2zM238 824h2v1h-2zM1119 824h2v1h-2zM1146 824h3v1h-3zM236 825h2v1h-2zM1121 825h2v1h-2zM1123 826h2v1h-2zM1067 827h3v1h-3zM923 828h3v1h-3zM1064 828h3v1h-3zM1070 828h2v1h-2zM920 829h3v1h-3zM926 829h4v1h-4zM1062 829h2v1h-2zM1072 829h3v1h-3zM211 830h2v1h-2zM918 830h2v1h-2zM930 830h3v1h-3zM1060 830h2v1h-2zM1075 830h10v1h-10zM1194 830h3v1h-3zM192 831h6v1h-6zM209 831h2v1h-2zM802 831h2v1h-2zM916 831h2v1h-2zM1190 831h4v1h-4zM187 832h5v1h-5zM198 832h2v1h-2zM207 832h2v1h-2zM800 832h2v1h-2zM1188 832h2v1h-2zM1212 832h9v1h-9zM184 833h3v1h-3zM200 833h3v1h-3zM205 833h2v1h-2zM1186 833h2v1h-2zM1210 833h2v1h-2zM182 834h2v1h-2zM203 834h2v1h-2zM797 834h2v1h-2zM1200 834h2v1h-2zM1208 834h2v1h-2zM180 835h2v1h-2zM1099 835h2v1h-2zM492 836h2v1h-2zM1097 836h2v1h-2zM1157 836h2v1h-2zM1182 836h2v1h-2zM1205 836h2v1h-2zM494 837h4v1h-4zM989 837h2v1h-2zM1010 837h3v1h-3zM1095 837h2v1h-2zM258 838h3v1h-3zM498 838h6v1h-6zM991 838h2v1h-2zM1006 838h4v1h-4zM1093 838h2v1h-2zM1160 838h2v1h-2zM1179 838h2v1h-2zM-4 839h12v1h-12zM254 839h4v1h-4zM488 839h2v1h-2zM504 839h5v1h-5zM993 839h2v1h-2zM1000 839h6v1h-6zM1162 839h2v1h-2zM1177 839h2v1h-2zM8 840h5v1h-5zM252 840h2v1h-2zM995 840h5v1h-5zM1164 840h2v1h-2zM1175 840h2v1h-2zM510 841h2v1h-2zM1166 841h4v1h-4zM1173 841h2v1h-2zM755 842h2v1h-2zM1170 842h3v1h-3zM164 843h2v1h-2zM468 843h2v1h-2zM483 843h2v1h-2zM753 843h2v1h-2zM16 844h2v1h-2zM166 844h2v1h-2zM470 844h2v1h-2zM480 844h3v1h-3zM514 844h2v1h-2zM736 844h6v1h-6zM751 844h2v1h-2zM168 845h3v1h-3zM472 845h3v1h-3zM478 845h2v1h-2zM732 845h4v1h-4zM742 845h4v1h-4zM749 845h2v1h-2zM171 846h2v1h-2zM475 846h3v1h-3zM680 846h2v1h-2zM746 846h3v1h-3zM20 847h4v1h-4zM24 848h5v1h-5zM1229 848h2v1h-2zM29 849h2v1h-2zM667 849h5v1h-5zM31 850h2v1h-2zM276 850h4v1h-4zM664 850h3v1h-3zM672 850h5v1h-5zM1232 850h2v1h-2zM33 851h2v1h-2zM274 851h2v1h-2zM280 851h8v1h-8zM662 851h2v1h-2zM712 851h5v1h-5zM1234 851h2v1h-2zM35 852h2v1h-2zM288 852h5v1h-5zM659 852h3v1h-3zM708 852h4v1h-4zM1236 852h9v1h-9zM555 853h2v1h-2zM656 853h3v1h-3zM706 853h2v1h-2zM88 854h5v1h-5zM270 854h2v1h-2zM338 854h3v1h-3zM540 854h2v1h-2zM553 854h2v1h-2zM654 854h2v1h-2zM704 854h2v1h-2zM1026 854h2v1h-2zM1029 854h2v1h-2zM84 855h4v1h-4zM109 855h2v1h-2zM268 855h2v1h-2zM334 855h4v1h-4zM542 855h2v1h-2zM551 855h2v1h-2zM650 855h4v1h-4zM111 856h2v1h-2zM296 856h2v1h-2zM328 856h6v1h-6zM544 856h3v1h-3zM549 856h2v1h-2zM646 856h4v1h-4zM692 856h4v1h-4zM701 856h2v1h-2zM1032 856h2v1h-2zM113 857h2v1h-2zM323 857h5v1h-5zM547 857h2v1h-2zM643 857h3v1h-3zM696 857h5v1h-5zM1022 857h2v1h-2zM1034 857h2v1h-2zM115 858h2v1h-2zM320 858h3v1h-3zM640 858h3v1h-3zM1020 858h2v1h-2zM51 859h2v1h-2zM117 859h2v1h-2zM318 859h2v1h-2zM638 859h2v1h-2zM1037 859h2v1h-2zM48 860h3v1h-3zM119 860h2v1h-2zM147 860h2v1h-2zM301 860h2v1h-2zM315 860h3v1h-3zM636 860h2v1h-2zM773 860h2v1h-2zM1268 860h2v1h-2zM46 861h2v1h-2zM121 861h2v1h-2zM144 861h3v1h-3zM313 861h2v1h-2zM775 861h2v1h-2zM1040 861h2v1h-2zM1266 861h2v1h-2zM1270 861h4v1h-4zM44 862h2v1h-2zM123 862h5v1h-5zM142 862h2v1h-2zM304 862h2v1h-2zM311 862h2v1h-2zM565 862h2v1h-2zM777 862h2v1h-2zM1042 862h2v1h-2zM1264 862h2v1h-2zM1274 862h3v1h-3zM72 863h2v1h-2zM128 863h14v1h-14zM306 863h2v1h-2zM309 863h2v1h-2zM632 863h2v1h-2zM779 863h2v1h-2zM568 864h2v1h-2zM588 864h4v1h-4zM1261 864h2v1h-2zM570 865h2v1h-2zM592 865h5v1h-5zM418 867h3v1h-3zM598 867h2v1h-2zM624 867h5v1h-5zM414 868h4v1h-4zM421 868h2v1h-2zM620 868h4v1h-4zM1256 868h2v1h-2zM155 869h2v1h-2zM412 869h2v1h-2zM423 869h2v1h-2zM618 869h2v1h-2zM410 870h2v1h-2zM425 870h2v1h-2zM444 870h2v1h-2zM602 870h2v1h-2zM616 870h2v1h-2zM396 871h3v1h-3zM427 871h2v1h-2zM446 871h2v1h-2zM604 871h2v1h-2zM1252 871h2v1h-2zM448 872h3v1h-3zM606 872h4v1h-4zM613 872h2v1h-2zM348 873h2v1h-2zM400 873h2v1h-2zM406 873h2v1h-2zM451 873h2v1h-2zM610 873h3v1h-3zM350 874h2v1h-2zM402 874h2v1h-2zM1324 874h10v1h-10zM352 875h3v1h-3zM1334 875h4v1h-4zM355 876h3v1h-3zM1338 876h4v1h-4zM358 877h2v1h-2zM1342 877h4v1h-4zM360 878h3v1h-3zM1284 878h2v1h-2zM1346 878h4v1h-4zM1362 878h11v1h-11zM363 879h2v1h-2zM1286 879h4v1h-4zM1350 879h4v1h-4zM1358 879h4v1h-4zM365 880h2v1h-2zM1290 880h12v1h-12zM1354 880h4v1h-4zM367 881h2v1h-2zM1302 881h2v1h-2zM369 882h2v1h-2zM1304 882h3v1h-3zM371 883h2v1h-2zM1307 883h2v1h-2zM373 884h2v1h-2zM1309 884h2v1h-2zM375 885h2v1h-2zM1311 885h2v1h-2zM377 886h2v1h-2zM1313 886h2v1h-2zM1386 886h3v1h-3zM379 887h5v1h-5zM1315 887h2v1h-2zM1382 887h4v1h-4zM384 888h5v1h-5zM1380 888h2v1h-2zM1396 895h2v1h-2zM1398 896h2v1h-2zM1400 897h3v1h-3zM1403 898h13v1h-13zM1416 899h5v1h-5zM13 841h1v1h-1zM14 842h1v1h-1zM15 843h1v1h-1zM18 845h1v1h-1zM19 846h1v1h-1zM37 853h1v1h-1zM38 854h1v2h-1zM39 856h1v1h-1zM40 857h1v1h-1zM41 858h1v1h-1zM42 859h1v2h-1zM43 861h1v1h-1zM53 857h1v2h-1zM54 856h1v1h-1zM55 855h1v1h-1zM56 853h1v2h-1zM57 852h1v1h-1zM58 851h1v1h-1zM59 849h1v2h-1zM60 848h1v1h-1zM61 849h1v2h-1zM62 851h1v1h-1zM63 852h1v1h-1zM64 853h1v2h-1zM65 855h1v1h-1zM66 856h1v1h-1zM67 857h1v2h-1zM68 859h1v1h-1zM69 860h1v1h-1zM70 861h1v1h-1zM71 862h1v1h-1zM74 864h1v1h-1zM75 865h1v1h-1zM76 866h1v1h-1zM77 864h1v2h-1zM78 863h1v1h-1zM79 862h1v1h-1zM80 860h1v2h-1zM81 859h1v1h-1zM82 858h1v1h-1zM83 856h1v2h-1zM93 853h1v1h-1zM94 852h1v1h-1zM95 851h1v1h-1zM96 850h1v1h-1zM97 849h1v1h-1zM98 848h1v1h-1zM99 847h1v1h-1zM100 846h1v1h-1zM101 847h1v1h-1zM102 848h1v1h-1zM103 849h1v1h-1zM104 850h1v1h-1zM105 851h1v1h-1zM106 852h1v1h-1zM107 853h1v1h-1zM108 854h1v1h-1zM149 861h1v1h-1zM150 862h1v2h-1zM151 864h1v1h-1zM152 865h1v1h-1zM153 866h1v1h-1zM154 867h1v2h-1zM156 870h1v1h-1zM157 865h1v4h-1zM158 862h1v3h-1zM159 859h1v3h-1zM160 855h1v4h-1zM161 852h1v3h-1zM162 849h1v3h-1zM163 845h1v4h-1zM164 844h1v1h-1zM173 844h1v2h-1zM174 843h1v1h-1zM175 842h1v1h-1zM176 840h1v2h-1zM177 839h1v1h-1zM178 838h1v1h-1zM179 836h1v2h-1zM213 829h1v1h-1zM214 827h1v2h-1zM215 826h1v1h-1zM216 825h1v1h-1zM217 824h1v1h-1zM218 822h1v2h-1zM219 821h1v1h-1zM231 822h1v1h-1zM244 823h1v1h-1zM245 824h1v2h-1zM246 826h1v2h-1zM247 828h1v2h-1zM248 830h1v3h-1zM249 833h1v2h-1zM250 835h1v2h-1zM251 837h1v2h-1zM252 839h1v1h-1zM260 839h1v1h-1zM261 840h1v2h-1zM262 842h1v2h-1zM263 844h1v2h-1zM264 846h1v3h-1zM265 849h1v2h-1zM266 851h1v2h-1zM267 853h1v2h-1zM268 856h1v1h-1zM272 853h1v1h-1zM273 852h1v1h-1zM293 853h1v1h-1zM294 854h1v1h-1zM295 855h1v1h-1zM298 857h1v1h-1zM299 858h1v1h-1zM300 859h1v1h-1zM303 861h1v1h-1zM308 864h1v1h-1zM340 855h1v1h-1zM341 856h1v2h-1zM342 858h1v2h-1zM343 860h1v3h-1zM344 863h1v2h-1zM345 865h1v3h-1zM346 868h1v2h-1zM347 870h1v2h-1zM348 872h1v1h-1zM388 887h1v1h-1zM389 885h1v2h-1zM390 883h1v2h-1zM391 881h1v2h-1zM392 878h1v3h-1zM393 876h1v2h-1zM394 874h1v2h-1zM395 872h1v2h-1zM396 870h1v1h-1zM399 872h1v1h-1zM404 875h1v1h-1zM405 874h1v1h-1zM408 872h1v1h-1zM409 871h1v1h-1zM429 870h1v1h-1zM430 868h1v2h-1zM431 867h1v1h-1zM432 866h1v1h-1zM433 865h1v1h-1zM434 863h1v2h-1zM435 862h1v1h-1zM436 861h1v1h-1zM437 862h1v1h-1zM438 863h1v1h-1zM439 864h1v1h-1zM440 865h1v2h-1zM441 867h1v1h-1zM442 868h1v1h-1zM443 869h1v1h-1zM453 871h1v2h-1zM454 869h1v2h-1zM455 867h1v2h-1zM456 865h1v2h-1zM457 863h1v2h-1zM458 861h1v2h-1zM459 859h1v2h-1zM460 857h1v2h-1zM461 855h1v2h-1zM462 853h1v2h-1zM463 851h1v2h-1zM464 850h1v1h-1zM465 848h1v2h-1zM466 846h1v2h-1zM467 844h1v2h-1zM485 842h1v1h-1zM486 841h1v1h-1zM487 840h1v1h-1zM490 838h1v1h-1zM491 837h1v1h-1zM509 840h1v1h-1zM512 842h1v1h-1zM513 843h1v1h-1zM516 845h1v1h-1zM517 844h1v1h-1zM518 842h1v2h-1zM519 841h1v1h-1zM520 840h1v1h-1zM521 839h1v1h-1zM522 837h1v2h-1zM523 836h1v1h-1zM524 835h1v1h-1zM525 836h1v1h-1zM526 837h1v1h-1zM527 838h1v1h-1zM528 839h1v1h-1zM529 840h1v1h-1zM530 841h1v1h-1zM531 842h1v1h-1zM532 843h1v1h-1zM533 844h1v2h-1zM534 846h1v1h-1zM535 847h1v1h-1zM536 848h1v2h-1zM537 850h1v1h-1zM538 851h1v1h-1zM539 852h1v2h-1zM557 854h1v1h-1zM558 855h1v1h-1zM559 856h1v1h-1zM560 857h1v1h-1zM561 858h1v1h-1zM562 859h1v1h-1zM563 860h1v1h-1zM564 861h1v1h-1zM567 863h1v1h-1zM572 866h1v1h-1zM573 864h1v2h-1zM574 863h1v1h-1zM575 862h1v1h-1zM576 860h1v2h-1zM577 859h1v1h-1zM578 858h1v1h-1zM579 856h1v2h-1zM580 855h1v1h-1zM581 856h1v1h-1zM582 857h1v1h-1zM583 858h1v1h-1zM584 859h1v2h-1zM585 861h1v1h-1zM586 862h1v1h-1zM587 863h1v1h-1zM597 866h1v1h-1zM600 868h1v1h-1zM601 869h1v1h-1zM615 871h1v1h-1zM629 866h1v1h-1zM630 865h1v1h-1zM631 864h1v1h-1zM634 862h1v1h-1zM635 861h1v1h-1zM677 849h1v1h-1zM678 848h1v1h-1zM679 847h1v1h-1zM682 845h1v1h-1zM683 844h1v1h-1zM684 843h1v1h-1zM685 844h1v2h-1zM686 846h1v2h-1zM687 848h1v1h-1zM688 849h1v2h-1zM689 851h1v1h-1zM690 852h1v2h-1zM691 854h1v2h-1zM703 855h1v1h-1zM717 849h1v2h-1zM718 847h1v2h-1zM719 845h1v2h-1zM720 843h1v2h-1zM721 841h1v2h-1zM722 839h1v2h-1zM723 837h1v2h-1zM724 836h1v1h-1zM725 837h1v1h-1zM726 838h1v1h-1zM727 839h1v1h-1zM728 840h1v2h-1zM729 842h1v1h-1zM730 843h1v1h-1zM731 844h1v1h-1zM757 843h1v1h-1zM758 844h1v1h-1zM759 845h1v1h-1zM760 846h1v1h-1zM761 847h1v1h-1zM762 848h1v1h-1zM763 849h1v1h-1zM764 850h1v1h-1zM765 851h1v1h-1zM766 852h1v1h-1zM767 853h1v1h-1zM768 854h1v2h-1zM769 856h1v1h-1zM770 857h1v1h-1zM771 858h1v1h-1zM772 859h1v1h-1zM781 862h1v1h-1zM782 860h1v2h-1zM783 859h1v1h-1zM784 858h1v1h-1zM785 857h1v1h-1zM786 855h1v2h-1zM787 854h1v1h-1zM788 852h1v2h-1zM789 850h1v2h-1zM790 848h1v2h-1zM791 846h1v2h-1zM792 843h1v3h-1zM793 841h1v2h-1zM794 839h1v2h-1zM795 837h1v2h-1zM796 835h1v2h-1zM799 833h1v1h-1zM804 830h1v1h-1zM805 829h1v1h-1zM806 828h1v1h-1zM807 827h1v1h-1zM808 826h1v1h-1zM809 825h1v1h-1zM810 824h1v1h-1zM811 823h1v1h-1zM823 821h1v1h-1zM828 818h1v1h-1zM829 819h1v1h-1zM832 821h1v1h-1zM833 822h1v1h-1zM836 824h1v1h-1zM837 822h1v2h-1zM838 820h1v2h-1zM839 818h1v2h-1zM840 816h1v2h-1zM841 814h1v2h-1zM842 812h1v2h-1zM843 810h1v2h-1zM869 804h1v2h-1zM870 806h1v2h-1zM871 808h1v2h-1zM872 810h1v2h-1zM873 812h1v2h-1zM874 814h1v2h-1zM875 816h1v2h-1zM876 818h1v1h-1zM877 817h1v1h-1zM880 815h1v1h-1zM881 814h1v1h-1zM884 812h1v1h-1zM885 813h1v1h-1zM886 814h1v1h-1zM887 815h1v1h-1zM888 816h1v1h-1zM889 817h1v1h-1zM890 818h1v1h-1zM891 819h1v1h-1zM909 824h1v1h-1zM910 825h1v1h-1zM911 826h1v1h-1zM912 827h1v1h-1zM913 828h1v1h-1zM914 829h1v1h-1zM915 830h1v1h-1zM932 829h1v1h-1zM933 827h1v2h-1zM934 824h1v3h-1zM935 821h1v3h-1zM936 819h1v2h-1zM937 816h1v3h-1zM938 813h1v3h-1zM939 811h1v2h-1zM940 809h1v2h-1zM941 808h1v1h-1zM944 806h1v1h-1zM945 805h1v1h-1zM948 803h1v1h-1zM949 804h1v2h-1zM950 806h1v1h-1zM951 807h1v1h-1zM952 808h1v2h-1zM953 810h1v1h-1zM954 811h1v1h-1zM955 812h1v2h-1zM965 812h1v1h-1zM966 813h1v1h-1zM967 814h1v1h-1zM968 815h1v1h-1zM969 816h1v1h-1zM970 817h1v1h-1zM971 818h1v1h-1zM981 823h1v2h-1zM982 825h1v2h-1zM983 827h1v2h-1zM984 829h1v1h-1zM985 830h1v2h-1zM986 832h1v2h-1zM987 834h1v2h-1zM988 836h1v1h-1zM1012 838h1v1h-1zM1013 839h1v3h-1zM1014 842h1v2h-1zM1015 844h1v3h-1zM1016 847h1v3h-1zM1017 850h1v3h-1zM1018 853h1v2h-1zM1019 855h1v3h-1zM1020 859h1v1h-1zM1024 856h1v1h-1zM1025 855h1v1h-1zM1028 853h1v1h-1zM1031 855h1v1h-1zM1036 858h1v1h-1zM1039 860h1v1h-1zM1044 863h1v1h-1zM1045 861h1v2h-1zM1046 859h1v2h-1zM1047 857h1v2h-1zM1048 855h1v2h-1zM1049 853h1v2h-1zM1050 851h1v2h-1zM1051 849h1v2h-1zM1052 846h1v3h-1zM1053 844h1v2h-1zM1054 842h1v2h-1zM1055 840h1v2h-1zM1056 838h1v2h-1zM1057 836h1v2h-1zM1058 834h1v2h-1zM1059 832h1v2h-1zM1060 831h1v1h-1zM1085 831h1v1h-1zM1086 832h1v1h-1zM1087 833h1v1h-1zM1088 834h1v2h-1zM1089 836h1v1h-1zM1090 837h1v1h-1zM1091 838h1v1h-1zM1092 839h1v1h-1zM1101 833h1v2h-1zM1102 831h1v2h-1zM1103 830h1v1h-1zM1104 828h1v2h-1zM1105 827h1v1h-1zM1106 825h1v2h-1zM1107 823h1v2h-1zM1125 825h1v1h-1zM1126 824h1v1h-1zM1127 823h1v1h-1zM1130 821h1v1h-1zM1131 820h1v1h-1zM1149 825h1v2h-1zM1150 827h1v1h-1zM1151 828h1v1h-1zM1152 829h1v2h-1zM1153 831h1v1h-1zM1154 832h1v1h-1zM1155 833h1v2h-1zM1156 835h1v1h-1zM1159 837h1v1h-1zM1181 837h1v1h-1zM1184 835h1v1h-1zM1185 834h1v1h-1zM1197 831h1v1h-1zM1198 832h1v1h-1zM1199 833h1v1h-1zM1202 835h1v1h-1zM1203 836h1v1h-1zM1204 837h1v1h-1zM1207 835h1v1h-1zM1221 833h1v2h-1zM1222 835h1v2h-1zM1223 837h1v2h-1zM1224 839h1v2h-1zM1225 841h1v2h-1zM1226 843h1v2h-1zM1227 845h1v2h-1zM1228 847h1v1h-1zM1231 849h1v1h-1zM1244 853h1v1h-1zM1245 854h1v2h-1zM1246 856h1v3h-1zM1247 859h1v2h-1zM1248 861h1v3h-1zM1249 864h1v2h-1zM1250 866h1v3h-1zM1251 869h1v2h-1zM1252 872h1v1h-1zM1254 870h1v1h-1zM1255 869h1v1h-1zM1258 867h1v1h-1zM1259 866h1v1h-1zM1260 865h1v1h-1zM1263 863h1v1h-1zM1277 863h1v2h-1zM1278 865h1v2h-1zM1279 867h1v2h-1zM1280 869h1v2h-1zM1281 871h1v2h-1zM1282 873h1v2h-1zM1283 875h1v2h-1zM1284 877h1v1h-1zM1317 885h1v2h-1zM1318 883h1v2h-1zM1319 882h1v1h-1zM1320 880h1v2h-1zM1321 879h1v1h-1zM1322 877h1v2h-1zM1323 875h1v2h-1zM1373 879h1v1h-1zM1374 880h1v2h-1zM1375 882h1v1h-1zM1376 883h1v1h-1zM1377 884h1v1h-1zM1378 885h1v2h-1zM1379 887h1v1h-1zM1389 887h1v1h-1zM1390 888h1v1h-1zM1391 889h1v1h-1zM1392 890h1v2h-1zM1393 892h1v1h-1zM1394 893h1v1h-1zM1395 894h1v1h-1z"/>
<line x1="1278.2" y1="668.0" x2="1422.7" y2="736.1" stroke="#ff0000" stroke-width="3.3"/>
<polygon fill="#ff0000" points="1432.0,740.5 1419.6,740.2 1423.9,731.2"/>
<line x1="1309.5" y1="872.2" x2="1412.0" y2="897.2" stroke="#ff0000" stroke-width="3.6"/>
<polygon fill="#ff0000" points="1422.0,899.6 1409.8,901.8 1412.2,892.1"/>
<rect x="0" y="26" width="1648" height="1" fill="#000"/>
<rect x="0" y="579" width="1648" height="1" fill="#000"/>
<rect x="0" y="581" width="1648" height="1" fill="#000"/>
<rect x="0" y="751" width="1648" height="1" fill="#000"/>
<rect x="0" y="753" width="1648" height="1" fill="#000"/>
<rect x="0" y="927" width="1648" height="1" fill="#000"/>
<rect x="1647" y="26" width="1" height="554" fill="#000"/>
<rect x="1647" y="581" width="1" height="171" fill="#000"/>
<rect x="1647" y="753" width="1" height="175" fill="#000"/>
<polygon points="1426,27 1436,27 1431,32" fill="#b4b4b4"/>
<rect x="1692" y="24" width="2" height="916" fill="#f0f0f0"/>
<rect x="1648" y="48" width="2" height="1" fill="#000"/>
<text class="s" x="1654" y="52" font-size="9.7" textLength="32.5" lengthAdjust="spacingAndGlyphs">26456.0</text>
<rect x="1648" y="81" width="2" height="1" fill="#000"/>
<text class="s" x="1654" y="85" font-size="9.7" textLength="32.5" lengthAdjust="spacingAndGlyphs">26060.0</text>
<rect x="1648" y="114" width="2" height="1" fill="#000"/>
<text class="s" x="1654" y="118" font-size="9.7" textLength="32.5" lengthAdjust="spacingAndGlyphs">25664.0</text>
<rect x="1648" y="147" width="2" height="1" fill="#000"/>
<text class="s" x="1654" y="151" font-size="9.7" textLength="32.5" lengthAdjust="spacingAndGlyphs">25268.0</text>
<rect x="1648" y="180" width="2" height="1" fill="#000"/>
<text class="s" x="1654" y="184" font-size="9.7" textLength="32.5" lengthAdjust="spacingAndGlyphs">24860.0</text>
<rect x="1648" y="213" width="2" height="1" fill="#000"/>
<text class="s" x="1654" y="217" font-size="9.7" textLength="32.5" lengthAdjust="spacingAndGlyphs">24464.0</text>
<rect x="1648" y="246" width="2" height="1" fill="#000"/>
<text class="s" x="1654" y="250" font-size="9.7" textLength="32.5" lengthAdjust="spacingAndGlyphs">24068.0</text>
<rect x="1648" y="279" width="2" height="1" fill="#000"/>
<text class="s" x="1654" y="283" font-size="9.7" textLength="32.5" lengthAdjust="spacingAndGlyphs">23672.0</text>
<rect x="1648" y="312" width="2" height="1" fill="#000"/>
<text class="s" x="1654" y="316" font-size="9.7" textLength="32.5" lengthAdjust="spacingAndGlyphs">23264.0</text>
<rect x="1648" y="345" width="2" height="1" fill="#000"/>
<text class="s" x="1654" y="349" font-size="9.7" textLength="32.5" lengthAdjust="spacingAndGlyphs">22868.0</text>
<rect x="1648" y="378" width="2" height="1" fill="#000"/>
<text class="s" x="1654" y="382" font-size="9.7" textLength="32.5" lengthAdjust="spacingAndGlyphs">22472.0</text>
<rect x="1648" y="411" width="2" height="1" fill="#000"/>
<text class="s" x="1654" y="415" font-size="9.7" textLength="32.5" lengthAdjust="spacingAndGlyphs">22076.0</text>
<rect x="1648" y="444" width="2" height="1" fill="#000"/>
<text class="s" x="1654" y="448" font-size="9.7" textLength="32.5" lengthAdjust="spacingAndGlyphs">21668.0</text>
<rect x="1648" y="542" width="2" height="1" fill="#000"/>
<text class="s" x="1654" y="546" font-size="9.7" textLength="32.5" lengthAdjust="spacingAndGlyphs">20480.0</text>
<text class="s" x="1651" y="591" font-size="9.7" textLength="27" lengthAdjust="spacingAndGlyphs">433.99</text>
<rect x="1648" y="583" width="2" height="1" fill="#000"/>
<rect x="1648" y="641" width="2" height="1" fill="#000"/>
<text class="s" x="1651.3" y="645" font-size="9.7" textLength="18" lengthAdjust="spacingAndGlyphs">0.00</text>
<text class="s" x="1651" y="748" font-size="9.7" textLength="31" lengthAdjust="spacingAndGlyphs">-811.76</text>
<rect x="1648" y="750" width="2" height="1" fill="#000"/>
<text class="s" x="1651" y="764" font-size="9.7" textLength="15" lengthAdjust="spacingAndGlyphs">100</text>
<rect x="1648" y="755" width="2" height="1" fill="#000"/>
<rect x="1648" y="789" width="2" height="1" fill="#000"/>
<text class="s" x="1651" y="793" font-size="9.7" textLength="10" lengthAdjust="spacingAndGlyphs">80</text>
<rect x="1648" y="840" width="2" height="1" fill="#000"/>
<text class="s" x="1651" y="844" font-size="9.7" textLength="10" lengthAdjust="spacingAndGlyphs">50</text>
<rect x="1648" y="901" width="2" height="1" fill="#000"/>
<text class="s" x="1651" y="905" font-size="9.7" textLength="10" lengthAdjust="spacingAndGlyphs">15</text>
<text class="s" x="1651" y="924" font-size="9.7">0</text>
<rect x="1648" y="926" width="2" height="1" fill="#000"/>
<rect x="1649" y="448" width="41" height="11" fill="#ff0000"/>
<text class="w" x="1653" y="457" font-size="9.7" fill="#fff" textLength="32.5" lengthAdjust="spacingAndGlyphs">21547.8</text>
<rect x="1649" y="472" width="41" height="11" fill="#ff0000"/>
<text class="w" x="1653" y="481" font-size="9.7" fill="#fff" textLength="32.5" lengthAdjust="spacingAndGlyphs">21258.8</text>
<rect x="1649" y="500" width="41" height="11" fill="#32cd32"/>
<text class="w" x="1653" y="509" font-size="9.7" fill="#fff" textLength="32.5" lengthAdjust="spacingAndGlyphs">20927.0</text>
<rect x="1649" y="512" width="41" height="11" fill="#000000"/>
<text class="w" x="1653" y="521" font-size="9.7" fill="#fff" textLength="32.5" lengthAdjust="spacingAndGlyphs">20789.0</text>
<rect x="1649" y="545" width="41" height="11" fill="#0000ff"/>
<text class="w" x="1653" y="554" font-size="9.7" fill="#fff" textLength="32.5" lengthAdjust="spacingAndGlyphs">20376.0</text>
<rect x="1649" y="570" width="41" height="11" fill="#0000ff"/>
<text class="w" x="1653" y="579" font-size="9.7" fill="#fff" textLength="32.5" lengthAdjust="spacingAndGlyphs">20084.2</text>
<rect x="1642.5" y="452.5" width="4" height="4" fill="#fff" stroke="#ff0000"/>
<rect x="1642.5" y="476.5" width="4" height="4" fill="#fff" stroke="#ff0000"/>
<rect x="1642.5" y="574.5" width="4" height="4" fill="#fff" stroke="#0000ff"/>
<text class="s" x="-14.5" y="940" font-size="9.7" textLength="52" lengthAdjust="spacingAndGlyphs" shape-rendering="auto">28 Oct 2021</text>
<rect x="52" y="927" width="1" height="4" fill="#000"/>
<text class="s" x="51.6" y="940" font-size="9.7" textLength="51.4" lengthAdjust="spacingAndGlyphs" shape-rendering="auto">1 Nov 05:00</text>
<rect x="116" y="927" width="1" height="4" fill="#000"/>
<text class="s" x="115.6" y="940" font-size="9.7" textLength="51.4" lengthAdjust="spacingAndGlyphs" shape-rendering="auto">5 Nov 05:00</text>
<rect x="180" y="927" width="1" height="4" fill="#000"/>
<text class="s" x="179.6" y="940" font-size="9.7" textLength="56.4" lengthAdjust="spacingAndGlyphs" shape-rendering="auto">11 Nov 05:00</text>
<rect x="244" y="927" width="1" height="4" fill="#000"/>
<text class="s" x="243.6" y="940" font-size="9.7" textLength="56.4" lengthAdjust="spacingAndGlyphs" shape-rendering="auto">17 Nov 05:00</text>
<rect x="308" y="927" width="1" height="4" fill="#000"/>
<text class="s" x="307.6" y="940" font-size="9.7" textLength="56.4" lengthAdjust="spacingAndGlyphs" shape-rendering="auto">23 Nov 05:00</text>
<rect x="372" y="927" width="1" height="4" fill="#000"/>
<text class="s" x="371.6" y="940" font-size="9.7" textLength="56.4" lengthAdjust="spacingAndGlyphs" shape-rendering="auto">29 Nov 05:00</text>
<rect x="436" y="927" width="1" height="4" fill="#000"/>
<text class="s" x="435.6" y="940" font-size="9.7" textLength="49.8" lengthAdjust="spacingAndGlyphs" shape-rendering="auto">3 Dec 05:00</text>
<rect x="500" y="927" width="1" height="4" fill="#000"/>
<text class="s" x="499.6" y="940" font-size="9.7" textLength="49.8" lengthAdjust="spacingAndGlyphs" shape-rendering="auto">9 Dec 05:00</text>
<rect x="564" y="927" width="1" height="4" fill="#000"/>
<text class="s" x="563.6" y="940" font-size="9.7" textLength="55.3" lengthAdjust="spacingAndGlyphs" shape-rendering="auto">15 Dec 05:00</text>
<rect x="628" y="927" width="1" height="4" fill="#000"/>
<text class="s" x="627.6" y="940" font-size="9.7" textLength="55.3" lengthAdjust="spacingAndGlyphs" shape-rendering="auto">21 Dec 05:00</text>
<rect x="692" y="927" width="1" height="4" fill="#000"/>
<text class="s" x="691.6" y="940" font-size="9.7" textLength="55.3" lengthAdjust="spacingAndGlyphs" shape-rendering="auto">29 Dec 01:15</text>
<rect x="756" y="927" width="1" height="4" fill="#000"/>
<text class="s" x="755.6" y="940" font-size="9.7" textLength="48.1" lengthAdjust="spacingAndGlyphs" shape-rendering="auto">4 Jan 05:00</text>
<rect x="820" y="927" width="1" height="4" fill="#000"/>
<text class="s" x="819.6" y="940" font-size="9.7" textLength="52.8" lengthAdjust="spacingAndGlyphs" shape-rendering="auto">10 Jan 05:00</text>
<rect x="884" y="927" width="1" height="4" fill="#000"/>
<text class="s" x="883.6" y="940" font-size="9.7" textLength="52.8" lengthAdjust="spacingAndGlyphs" shape-rendering="auto">14 Jan 05:00</text>
<rect x="948" y="927" width="1" height="4" fill="#000"/>
<text class="s" x="947.6" y="940" font-size="9.7" textLength="52.8" lengthAdjust="spacingAndGlyphs" shape-rendering="auto">20 Jan 05:00</text>
<rect x="1012" y="927" width="1" height="4" fill="#000"/>
<text class="s" x="1011.6" y="940" font-size="9.7" textLength="52.8" lengthAdjust="spacingAndGlyphs" shape-rendering="auto">26 Jan 05:00</text>
<rect x="1076" y="927" width="1" height="4" fill="#000"/>
<text class="s" x="1075.6" y="940" font-size="9.7" textLength="50.2" lengthAdjust="spacingAndGlyphs" shape-rendering="auto">7 Feb 01:15</text>
<rect x="1140" y="927" width="1" height="4" fill="#000"/>
<text class="s" x="1139.6" y="940" font-size="9.7" textLength="54.6" lengthAdjust="spacingAndGlyphs" shape-rendering="auto">11 Feb 01:15</text>
<rect x="1204" y="927" width="1" height="4" fill="#000"/>
<text class="s" x="1203.6" y="940" font-size="9.7" textLength="54.6" lengthAdjust="spacingAndGlyphs" shape-rendering="auto">17 Feb 01:15</text>
<rect x="1268" y="927" width="1" height="4" fill="#000"/>
<text class="s" x="1267.6" y="940" font-size="9.7" textLength="54.6" lengthAdjust="spacingAndGlyphs" shape-rendering="auto">23 Feb 01:15</text>
<rect x="1332" y="927" width="1" height="4" fill="#000"/>
<text class="s" x="1331.6" y="940" font-size="9.7" textLength="49.5" lengthAdjust="spacingAndGlyphs" shape-rendering="auto">1 Mar 01:15</text>
<rect x="1396" y="927" width="1" height="4" fill="#000"/>
<text class="s" x="1395.6" y="940" font-size="9.7" textLength="49.5" lengthAdjust="spacingAndGlyphs" shape-rendering="auto">7 Mar 01:15</text>
<text class="s" x="3" y="38" font-size="9.7"textLength="188" lengthAdjust="spacingAndGlyphs" shape-rendering="auto" xml:space="preserve">HK50-,H4  20874.0 21024.0 20562.0 20789.0</text>
<text class="s" x="-8" y="594" font-size="9.7"textLength="134" lengthAdjust="spacingAndGlyphs" shape-rendering="auto">MACD(12,26,9) -755.13 -603.09</text>
<text class="s" x="-7" y="766" font-size="9.7"textLength="67" lengthAdjust="spacingAndGlyphs" shape-rendering="auto">RSI(14) 16.1449</text>
</svg>
<div id="tb">
<div class="sel" style="left:283px;width:24px"></div>
<div class="sel" style="left:435px;width:25px"></div>
<div class="sel" style="left:463px;width:25px"></div>
<div class="sel" style="left:622px;width:25px"></div>
<div class="sel" style="left:1068px;width:25px;border-left:1px solid #a0a0a0"></div>
<div class="sep" style="left:8px"></div>
<div class="sep" style="left:244px"></div><div class="grip" style="left:248px"></div>
<div class="sep" style="left:282px"></div>
<div class="sep" style="left:339px"></div>
<div class="sep" style="left:429px"></div><div class="sep" style="left:434px"></div>
<div class="sep" style="left:462px"></div>
<div class="sep" style="left:491px"></div>
<div class="sep" style="left:612px"></div><div class="grip" style="left:616px"></div>
<div class="sep" style="left:679px"></div>
<div class="sep" style="left:918px"></div><div class="grip" style="left:922px"></div>
<div class="sep" style="left:1179px"></div>
<div class="cj" style="left:36.6px">新订单</div>
<div class="cj" style="left:188.9px">自动交易</div>
<div class="dd" style="left:522px"></div><div class="dd" style="left:561px"></div><div class="dd" style="left:600px"></div><div class="dd" style="left:907px"></div>
<div class="tf" style="left:926px">M1</div><div class="tf" style="left:954px">M5</div><div class="tf" style="left:982.5px">M15</div><div class="tf" style="left:1010.5px">M30</div><div class="tf" style="left:1038.5px">H1</div><div class="tf" style="left:1066px">H4</div><div class="tf" style="left:1094.5px">D1</div><div class="tf" style="left:1123px">W1</div><div class="tf" style="left:1150px">MN</div>
<svg id="tbsvg" width="1694" height="24" viewBox="0 0 1694 24">
<defs>
<linearGradient id="gg" x1="0" y1="0" x2="0" y2="1"><stop offset="0" stop-color="#40ff40"/><stop offset="1" stop-color="#00a800"/></linearGradient>
<linearGradient id="gold" x1="0" y1="0" x2="1" y2="1"><stop offset="0" stop-color="#ffe060"/><stop offset="1" stop-color="#b07810"/></linearGradient>
<linearGradient id="blu" x1="0" y1="0" x2="0" y2="1"><stop offset="0" stop-color="#60b0ff"/><stop offset="1" stop-color="#1060d0"/></linearGradient>
<linearGradient id="redb" x1="0" y1="0" x2="0" y2="1"><stop offset="0" stop-color="#ec5a38"/><stop offset="1" stop-color="#d41808"/></linearGradient>
<g id="axes"><path d="M4.5 1V14M0.5 11.500H13" stroke="#505050" stroke-width="1.100" fill="none"/><path d="M4.500 0l-2.200 3h4.400zM14.500 11.500l-3-2.200v4.400z" fill="#505050"/></g>
</defs>
<!-- orange dot fragment -->
<rect x="0" y="17" width="1" height="2" fill="#e0a030"/>
<!-- new order -->
<path d="M18.5 3.5h8l3 3v8.5h-11z" fill="#fff" stroke="#6a6a6a"/><path d="M26.5 3.5v3h3" fill="none" stroke="#6a6a6a"/><path d="M20.500 6.500h3.500M20.500 9.500h5M20.500 12.500h3" stroke="#808080" stroke-width="1"/>
<path d="M26 9h4v3.5h3.5v4H30V20h-4v-3.5h-3.5v-4H26z" fill="url(#gg)" stroke="#008800" stroke-width=".6"/>
<!-- gold book -->
<path d="M84.800 11.500C86 8 89 4.500 91.300 3L100.900 9.500 93.500 16.200z" fill="url(#gold)" stroke="#b88418" stroke-width=".6"/><path d="M84.800 11.500L93.500 16.200 100.900 9.500v1.800L93.300 18 84.800 13z" fill="#b07c14"/><path d="M87 11c1-2.500 3-5 4.500-6l7 4.800-5.200 4.700z" fill="#ffe67a" opacity=".55"/>
<!-- cloud server -->
<path d="M116 3l6-1.5 5 1.5v9h-11z" fill="url(#blu)"/><path d="M119 5.5h6v2h-6z" fill="#e8f4ff"/>
<path d="M115.500 17.500a3 3 0 0 1 .3-6 3.800 3.800 0 0 1 7.200-.8 3.200 3.200 0 0 1 4.800 3.300 2 2 0 0 1 -.5 3.500z" fill="#eef3fc" stroke="#7088c0" stroke-width=".8"/>
<!-- signal -->
<circle cx="149" cy="10" r="7.300" fill="#e4f0e4" stroke="#88a8d8" stroke-width="1"/><path d="M149 10a7.300 7.300 0 0 1 0 7.300 7.300 7.300 0 0 0 7.300-7.300z" fill="#70c070"/>
<circle cx="149" cy="10" r="4.500" fill="none" stroke="#6088d0" stroke-width="1"/><circle cx="149" cy="10" r="1.800" fill="#2050c0"/><path d="M149.500 10V17.500" stroke="#20a020" stroke-width="1.300"/>
<!-- autotrading -->
<path d="M169 10l7.500 8 7.500-8z" fill="#f8d840" stroke="#c8a020" stroke-width=".6"/>
<ellipse cx="176.500" cy="8" rx="8" ry="3" fill="#4890d8"/><ellipse cx="176.500" cy="5.500" rx="4.500" ry="3.500" fill="#60a8e8"/>
<circle cx="180.600" cy="13.800" r="3.900" fill="#e02010"/><rect x="179" y="12.200" width="3.200" height="3.200" fill="#fff"/>
<!-- chart type icons -->
<use href="#axes" x="259" y="4"/><path d="M269.500 6V15M269.500 6.500H272M267 13.500H269.500" stroke="#109010" stroke-width="1.400" fill="none"/>
<use href="#axes" x="288" y="4"/><path d="M296.500 2.500V14" stroke="#107010" stroke-width="1"/><rect x="294.500" y="4.500" width="4" height="7" fill="#30e030" stroke="#108010"/>
<use href="#axes" x="316" y="4"/><path d="M317.500 12.500C321 8 323 6.500 325 8S328 11 329 11.500" stroke="#109010" stroke-width="1.300" fill="none"/>
<!-- zoom in/out -->
<path d="M357.500 11.500L362.500 16.500" stroke="#c8a020" stroke-width="2.600" stroke-linecap="round"/><circle cx="354" cy="7.800" r="5" fill="#d8ecff" stroke="#3080d0" stroke-width="1.400"/><path d="M351.300 7.800h5.400M354 5.100v5.400" stroke="#2060b0" stroke-width="1.500"/>
<path d="M386 11.500L391 16.500" stroke="#c8a020" stroke-width="2.600" stroke-linecap="round"/><circle cx="382.500" cy="7.800" r="5" fill="#d8ecff" stroke="#3080d0" stroke-width="1.400"/><path d="M379.800 7.800h5.400" stroke="#2060b0" stroke-width="1.500"/>
<!-- tile -->
<rect x="404" y="2" width="8" height="8" fill="#40a020"/><rect x="412" y="2" width="8" height="8" fill="#2050c8"/><rect x="404" y="10" width="8" height="8" fill="#2050c8"/><rect x="412" y="10" width="8" height="8" fill="#40a020"/>
<path d="M405.500 5.500h5v3h-5zM413.500 5.500h5v3h-5zM405.500 13.500h5v3h-5zM413.500 13.500h5v3h-5z" fill="#fff"/>
<!-- autoscroll / shift -->
<use href="#axes" x="440" y="4"/><path d="M447.500 6.500v6l3.800-3z" fill="#30e030" stroke="#109010" stroke-width=".9"/>
<use href="#axes" x="468" y="4"/><path d="M476.500 4V14" stroke="#2060b0" stroke-width="1.200"/><path d="M482 9.500h-4.500M480 7l-2.800 2.500 2.800 2.500" stroke="#e04010" stroke-width="1.200" fill="none"/>
<!-- indicators -->
<path d="M501.500 3.500h7l3 3v9h-10z" fill="#fff" stroke="#909090"/><path d="M505 7c-1.500 0-.5 2.500-1.800 2.800 1.300.3.300 2.800 1.800 2.800" stroke="#606060" fill="none" stroke-width=".9"/>
<path d="M509 8.500h4v3.500h3.500v4H513v3.500h-4V16h-3.500v-4H509z" fill="url(#gg)" stroke="#008800" stroke-width=".6"/>
<!-- clock -->
<circle cx="546.800" cy="9.800" r="7" fill="#fff" stroke="#2070d0" stroke-width="2.200"/><path d="M546.800 5.500v4.500h3" stroke="#505050" stroke-width="1" fill="none"/>
<!-- template -->
<rect x="578.500" y="3.500" width="15" height="13" fill="#fff" stroke="#3070c8" stroke-width="1.200"/><rect x="578" y="3" width="16" height="2.500" fill="#3070c8"/>
<path d="M580 9.500l3-1 3 .5 3-1.500 3 .5" stroke="#b02010" stroke-width="1.200" fill="none"/><path d="M580 14l3-1.500 3 1 3-2 3 1.500" stroke="#20a020" stroke-width="1.200" fill="none"/>
<!-- cursor -->
<path d="M630 3v12l3-2.800 2.200 4.800 2-1-2.200-4.600h4z" fill="#404040"/>
<!-- crosshair -->
<path d="M662.500 3V18M655 10.500h15" stroke="#505050" stroke-width="1"/>
<!-- lines -->
<path d="M696.500 4V17" stroke="#505050" stroke-width="1.200"/><path d="M718.500 10.500H731" stroke="#505050" stroke-width="1.200"/><path d="M747 17L759 5" stroke="#505050" stroke-width="1.200"/>
<path d="M773 12l11-7M775 16l11-7M777 9.500v6M780.500 7.500v6M784 5v6" stroke="#505050" stroke-width="1" fill="none"/><text x="784" y="19" font-size="6.500" font-weight="bold" font-family="Liberation Sans,sans-serif" fill="#404040">E</text>
<path d="M802 3.500h13M802 7h13M802 10.500h13M802 14.500h10" stroke="#505050" stroke-width="1" stroke-dasharray="1 1"/><text x="812" y="19.500" font-size="6.500" font-weight="bold" font-family="Liberation Sans,sans-serif" fill="#404040">F</text>
<text x="832.500" y="15" font-size="12.500" font-weight="bold" font-family="Liberation Sans,sans-serif" fill="#606060">A</text>
<rect x="859.500" y="4.500" width="11" height="12" fill="none" stroke="#505050" stroke-dasharray="1 1"/><text x="861.500" y="14.500" font-size="11" font-weight="bold" font-family="Liberation Sans,sans-serif" fill="#606060">T</text>
<path d="M889 3.500l2.800 2.500-2.800 2.500-2.800-2.500zM897 11.500l3 2.500-3 2.500-3-2.500z" fill="#505050"/><path d="M889 11l2 2.500 4-5" stroke="#505050" stroke-width="1.300" fill="none"/>
<!-- search -->
<circle cx="1649.500" cy="7.400" r="4.200" fill="#f4f6ff" stroke="#2458cc" stroke-width="1.300"/><path d="M1646.300 10.600L1642 14.800" stroke="#1848c0" stroke-width="2.200"/>
<!-- chat -->
<path d="M1666 12a5.500 4.500 0 1 1 4 4.300l-1.500 2-.3-2.400A4.500 4.500 0 0 1 1666 12z" fill="#e8ecf8" stroke="#b8b8c0" stroke-width=".8"/>
<circle cx="1680.700" cy="7.200" r="8.300" fill="url(#redb)"/><text x="1677.300" y="12" font-size="12" font-weight="bold" font-family="Liberation Serif,serif" fill="#fff">1</text>
</svg>

</div>
<div id="tbl1"></div><div id="tbl2"></div><div id="tbl3"></div>
<div id="oct">
 <div class="b" style="left:0;top:0;width:43px;height:24px;background:linear-gradient(#5656ff,#3c3ce4);box-shadow:inset -1px 0 #2020c0, inset 0 1px #3030d0"></div>
 <div class="b" style="left:0;top:23px;width:39px;height:2px;background:#7a7af4"></div>
 <div class="b" style="left:3.5px;top:5px;font-size:11.7px;line-height:14px;letter-spacing:-0.75px">SELL</div>
 <div class="b" style="left:158px;top:0;width:52px;height:24px;background:linear-gradient(#5656ff,#3c3ce4);box-shadow:inset 1px 0 #2020c0, inset 0 1px #3030d0"></div>
 <div class="b" style="left:163px;top:23px;width:43px;height:2px;background:#7a7af4"></div>
 <div class="b" style="left:171px;top:5px;font-size:12px;line-height:14px;letter-spacing:-0.2px">BUY</div>
 <div class="b" style="left:43px;top:0;width:115px;height:24px;background:#f4f4f4"></div>
 <div class="b" style="left:45px;top:0;width:111px;height:22px;background:#fff;border:1px solid #a8a8a8;box-sizing:border-box"></div>
 <div class="b" style="left:47px;top:2px;width:18px;height:18px;background:linear-gradient(#f2f2f2 0 45%,#d8d8d8 50% 100%);border-right:1px solid #b0b0b0"></div>
 <div class="b" style="left:135px;top:2px;width:19px;height:18px;background:linear-gradient(#f2f2f2 0 45%,#d8d8d8 50% 100%);border-left:1px solid #b0b0b0"></div>
 <div class="b" style="left:53px;top:9px;width:0;height:0;border-left:3px solid transparent;border-right:3px solid transparent;border-top:3px solid #5060c0"></div>
 <div class="b" style="left:142px;top:9px;width:0;height:0;border-left:3px solid transparent;border-right:3px solid transparent;border-bottom:3px solid #5060c0"></div>
 <div class="b" style="left:70px;top:4px;width:61px;text-align:right;color:#000;font-size:12.5px;line-height:15px">1.00</div>
 <div class="b" style="left:0;top:24px;width:100px;height:33px;background:linear-gradient(#3838e0,#2020c8 50%,#0808a8);box-shadow:inset -1px 0 #1414b0,inset 0 1px #1818b8,inset 0 -1px #0404a0"></div>
 <div class="b" style="left:102px;top:24px;width:108px;height:33px;background:linear-gradient(#3838e0,#2020c8 50%,#0808a8);box-shadow:inset -1px 0 #1414b0,inset 1px 0 #1414b0,inset 0 1px #1818b8,inset 0 -1px #0404a0"></div>
 <div class="b" style="left:7.5px;top:41px;font-size:12px;font-weight:bold;line-height:14px;letter-spacing:0.25px">20787</div>
 <div class="b" style="left:45px;top:21.7px;font-size:34.5px;line-height:36px;transform:scaleX(.825);transform-origin:0 0">.5</div>
 <div class="b" style="left:117.3px;top:41px;font-size:12px;font-weight:bold;line-height:14px;letter-spacing:0.25px">20800</div>
 <div class="b" style="left:156px;top:21.7px;font-size:34.5px;line-height:36px;transform:scaleX(.825);transform-origin:0 0">.5</div>
 <svg class="b" style="left:95px;top:28px" width="5" height="5" viewBox="0 0 5 5"><path d="M2.500 .5l2 2-2 2-2-2z" fill="none" stroke="#e8d820" stroke-width="1"/></svg>
</div>
</body></html>
